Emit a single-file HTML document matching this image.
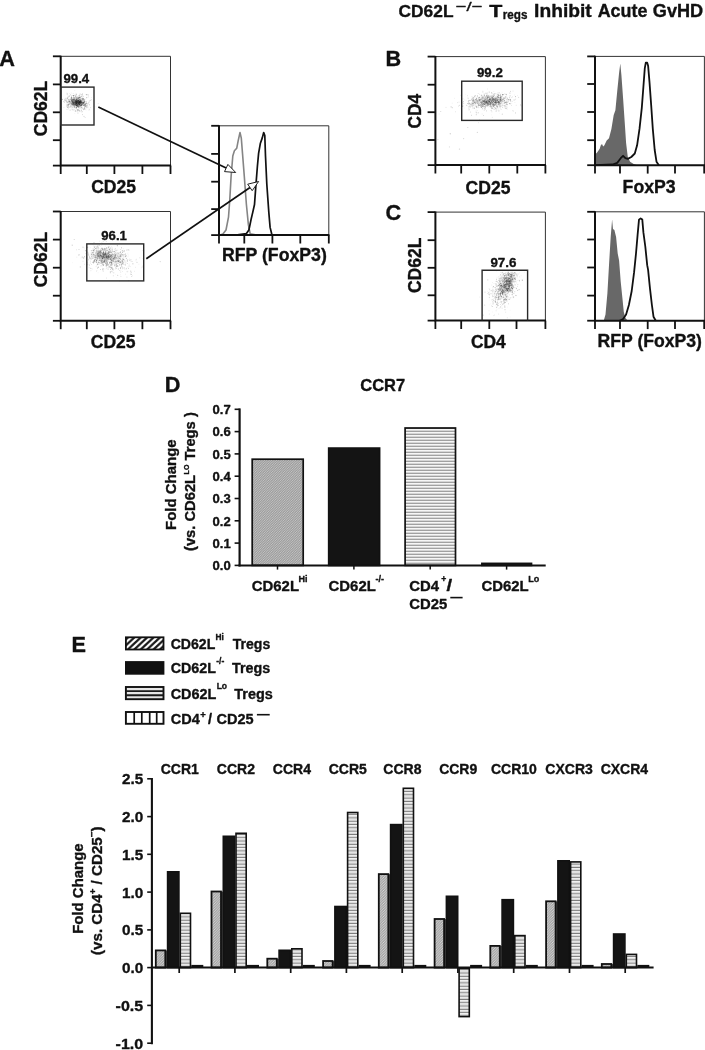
<!DOCTYPE html>
<html lang="en"><head><meta charset="utf-8"><title>CD62L-/- Tregs Inhibit Acute GvHD</title>
<style>html,body{margin:0;padding:0;background:#fff}svg{display:block}text{font-family:"Liberation Sans", Arial, Helvetica, sans-serif;font-weight:700;fill:#111;stroke:#111;stroke-width:.35px;stroke-linejoin:round}</style></head><body>
<svg width="705" height="1050" viewBox="0 0 705 1050">
<defs>
<pattern id="hd" width="2.4" height="2.4" patternUnits="userSpaceOnUse"><rect width="2.4" height="2.4" fill="#9c9c9c"/><path d="M-0.6 3L3 -0.6M-0.6 0.6L0.6 -0.6M1.8 3L3 1.8" stroke="#cdcdcd" stroke-width="0.8"/></pattern>
<pattern id="hd2" width="2.6" height="2.6" patternUnits="userSpaceOnUse"><rect width="2.6" height="2.6" fill="#a6a6a6"/><path d="M-0.65 3.25L3.25 -0.65M-0.65 0.65L0.65 -0.65M1.95 3.25L3.25 1.95" stroke="#dadada" stroke-width="0.8"/></pattern>
<pattern id="hh" width="4" height="3" patternUnits="userSpaceOnUse"><rect width="4" height="3" fill="#fafafa"/><rect y="0.9" width="4" height="2.1" fill="#d6d6d6"/><rect y="2.3" width="4" height="0.7" fill="#8a8a8a"/></pattern>
<pattern id="he" width="4" height="3.3" patternUnits="userSpaceOnUse"><rect width="4" height="3.3" fill="#f4f4f4"/><rect y="1.2" width="4" height="2.1" fill="#d2d2d2"/><rect y="2.5" width="4" height="0.8" fill="#777"/></pattern>
<pattern id="ld" width="6.4" height="6" patternUnits="userSpaceOnUse" patternTransform="translate(1.5 0)"><rect width="6.4" height="6" fill="#fff"/><path d="M-3.2 9L9.6 -3M-9.6 9L3.2 -3M3.2 9L16 -3" stroke="#1a1a1a" stroke-width="2.3"/></pattern>
</defs>
<rect width="705" height="1050" fill="#fff"/>
<g id="title">
<text x="398.6" y="17.0" font-size="17.3" text-anchor="start" textLength="54.9" lengthAdjust="spacingAndGlyphs">CD62L</text>
<text x="455.8" y="11.0" font-size="13.5" text-anchor="start" textLength="26.8" lengthAdjust="spacingAndGlyphs" style="font-weight:400">&#8722;/&#8722;</text>
<text x="489.2" y="17.0" font-size="17.3" text-anchor="start" textLength="13.1" lengthAdjust="spacingAndGlyphs">T</text>
<text x="502.8" y="18.5" font-size="12.4" text-anchor="start" textLength="24.7" lengthAdjust="spacingAndGlyphs">regs</text>
<text x="534.1" y="17.0" font-size="17.6" text-anchor="start" textLength="57.6" lengthAdjust="spacingAndGlyphs">Inhibit</text>
<text x="597.7" y="17.0" font-size="17.6" text-anchor="start" textLength="49.7" lengthAdjust="spacingAndGlyphs">Acute</text>
<text x="652.8" y="17.0" font-size="17.6" text-anchor="start" textLength="50.3" lengthAdjust="spacingAndGlyphs">GvHD</text>
</g>
<text x="-0.7" y="66.0" font-size="21.7" text-anchor="start">A</text>
<text x="385.5" y="66.3" font-size="21.7" text-anchor="start">B</text>
<text x="385.5" y="220.3" font-size="21.7" text-anchor="start">C</text>
<text x="164.7" y="392.2" font-size="21.7" text-anchor="start">D</text>
<text x="71.6" y="651.8" font-size="21.7" text-anchor="start">E</text>
<g id="panelA">
<path d="M75.6 101.2h.01M78.9 103.2h.01M68.1 104.4h.01M79.4 104.3h.01M68.0 95.7h.01M79.5 100.5h.01M73.4 107.8h.01M72.6 102.8h.01M76.2 99.6h.01M77.4 98.1h.01M74.4 97.9h.01M83.5 96.2h.01M66.9 93.0h.01M71.0 105.1h.01M79.5 104.5h.01M66.5 99.3h.01M81.2 96.7h.01M79.7 102.2h.01M82.7 105.9h.01M78.6 103.1h.01M75.9 103.2h.01M87.3 104.5h.01M75.0 103.5h.01M71.0 102.6h.01M68.0 100.3h.01M84.4 102.5h.01M77.4 102.9h.01M67.0 97.8h.01M66.6 105.0h.01M79.6 106.0h.01M75.8 98.1h.01M68.7 99.5h.01M70.7 103.0h.01M80.3 103.8h.01M86.9 97.5h.01M81.4 103.2h.01M80.0 104.3h.01M66.7 104.9h.01M78.5 100.2h.01M70.6 97.3h.01M65.6 98.8h.01M76.2 102.9h.01M76.1 98.1h.01M72.0 104.4h.01M71.2 93.0h.01M71.4 107.2h.01M76.7 104.4h.01M81.9 102.9h.01M67.3 97.9h.01M70.4 101.7h.01M75.9 93.2h.01M71.7 102.0h.01M79.2 104.7h.01M76.6 99.5h.01M80.6 103.8h.01M71.0 101.4h.01M79.5 102.1h.01M82.8 103.1h.01M79.8 105.1h.01M72.8 107.9h.01M73.3 104.8h.01M69.0 96.2h.01M74.4 99.8h.01M79.8 109.7h.01M73.1 102.1h.01M91.3 97.5h.01M77.6 103.8h.01M76.8 98.9h.01M69.5 101.6h.01M81.5 97.0h.01M71.5 97.9h.01M84.0 101.9h.01M81.2 100.3h.01M76.4 103.0h.01M70.9 95.2h.01M77.0 103.3h.01M73.9 105.1h.01M73.3 102.0h.01M78.4 108.1h.01M73.5 102.1h.01M80.0 105.4h.01M77.9 103.4h.01M85.5 99.1h.01M74.8 90.6h.01M79.4 102.2h.01M70.8 106.7h.01M82.4 104.1h.01M78.5 105.6h.01M77.8 102.0h.01M80.3 101.5h.01M76.6 95.2h.01M85.5 103.4h.01M83.2 100.6h.01M73.8 103.8h.01M79.8 101.8h.01M79.6 97.5h.01M80.8 97.6h.01M73.2 100.2h.01M77.2 101.1h.01M83.2 103.9h.01M75.4 98.7h.01M76.7 95.9h.01M76.9 104.9h.01M83.0 108.7h.01M72.7 100.6h.01M63.9 107.5h.01M73.0 101.9h.01M79.5 98.1h.01M83.6 102.3h.01M79.0 104.4h.01M73.2 103.5h.01M74.2 106.2h.01M82.9 105.5h.01M77.7 104.1h.01M68.5 105.3h.01M83.3 104.1h.01M70.8 103.9h.01M83.9 103.8h.01M77.6 96.6h.01M79.5 102.1h.01M76.9 100.4h.01M65.1 101.1h.01M80.0 103.2h.01M81.3 108.0h.01M81.4 99.8h.01M67.4 98.1h.01M89.8 110.1h.01M78.5 100.2h.01M79.7 103.1h.01M81.7 102.9h.01M80.6 104.7h.01M77.9 106.9h.01M73.8 100.9h.01M82.9 105.7h.01M73.5 103.6h.01M84.3 103.5h.01M76.9 109.7h.01M75.2 104.9h.01M86.8 103.6h.01M76.6 98.6h.01M76.5 98.7h.01M72.4 106.8h.01M73.4 96.0h.01M78.3 98.6h.01M76.6 104.8h.01M69.5 93.6h.01M86.2 108.1h.01M74.2 97.7h.01M70.5 106.5h.01" stroke="#222" stroke-opacity="0.12" stroke-width="0.70" stroke-linecap="round" fill="none"/>
<path d="M72.0 101.2h.01M82.6 104.4h.01M82.2 103.8h.01M78.4 103.9h.01M79.7 106.7h.01M78.7 100.1h.01M78.1 104.0h.01M68.6 105.9h.01M77.4 106.3h.01M84.4 101.7h.01M76.0 101.3h.01M84.1 99.7h.01M72.7 104.1h.01M74.6 104.4h.01M75.6 102.1h.01M82.0 99.0h.01M81.3 107.8h.01M82.5 98.1h.01M76.0 103.0h.01M91.1 99.9h.01M81.6 102.0h.01M68.9 96.5h.01M80.0 99.5h.01M84.5 100.0h.01M76.8 98.6h.01M80.8 108.1h.01M66.5 106.1h.01M76.3 100.3h.01M84.6 99.7h.01M72.9 105.4h.01M84.2 102.2h.01M67.2 104.2h.01M78.4 100.5h.01M73.3 105.0h.01M75.8 102.2h.01M82.0 105.6h.01M81.6 101.0h.01M64.5 102.3h.01M65.2 98.3h.01M78.3 101.0h.01M80.9 105.3h.01M72.0 104.2h.01M79.7 105.7h.01M90.7 107.6h.01M69.5 99.4h.01M78.3 103.2h.01M74.7 98.9h.01M86.3 106.1h.01M75.1 104.9h.01M77.1 99.6h.01M85.4 106.5h.01M75.3 105.8h.01M83.2 102.3h.01M77.3 111.2h.01M75.0 105.2h.01M70.7 102.4h.01M80.9 102.9h.01M81.2 104.7h.01M74.5 95.4h.01M75.6 97.5h.01M66.9 101.3h.01M80.1 105.1h.01M76.5 99.8h.01M77.6 97.8h.01M76.0 102.1h.01M74.2 102.5h.01M79.5 101.3h.01M88.9 102.5h.01M72.9 102.8h.01M79.9 110.6h.01M80.8 106.0h.01M82.9 99.6h.01M75.6 102.4h.01M84.2 100.8h.01M80.3 101.1h.01M74.1 109.8h.01M73.4 101.9h.01M83.9 99.0h.01M82.9 101.5h.01M71.9 100.7h.01M67.0 98.5h.01M71.4 104.0h.01M80.7 103.8h.01M86.5 101.5h.01M74.1 99.9h.01M70.0 101.1h.01M75.0 105.8h.01M75.4 100.2h.01M78.4 100.4h.01M73.2 110.0h.01M70.4 94.7h.01M80.0 111.6h.01M81.6 110.1h.01M77.0 102.6h.01M83.8 101.9h.01M77.4 106.3h.01M89.2 101.4h.01M74.7 105.1h.01M79.6 108.0h.01M88.3 96.9h.01M81.8 105.1h.01M71.1 98.4h.01M81.0 103.5h.01M70.8 99.2h.01M77.8 105.7h.01M74.8 100.4h.01M73.4 104.8h.01M76.3 100.1h.01M73.8 102.6h.01M81.4 94.6h.01M75.1 102.4h.01M81.4 101.4h.01M71.7 101.5h.01M79.6 104.4h.01M71.5 99.4h.01M73.6 102.6h.01M75.4 101.2h.01M75.9 96.5h.01M75.1 102.1h.01M71.7 101.8h.01M87.6 94.7h.01M79.7 95.1h.01M81.2 104.1h.01M83.3 109.7h.01M73.2 99.6h.01M83.6 102.8h.01M70.2 99.2h.01M65.8 100.8h.01M79.3 104.4h.01M84.6 101.1h.01M73.6 103.5h.01M83.4 103.4h.01M79.0 107.0h.01M69.4 101.5h.01M78.0 100.6h.01M75.8 99.7h.01M76.1 107.1h.01M72.8 100.8h.01M86.9 106.9h.01M77.5 103.1h.01M78.3 102.7h.01M74.0 96.9h.01M83.2 104.8h.01M86.4 106.1h.01" stroke="#222" stroke-opacity="0.21" stroke-width="0.80" stroke-linecap="round" fill="none"/>
<path d="M72.2 100.4h.01M73.6 99.6h.01M75.0 101.9h.01M80.1 103.6h.01M74.1 106.2h.01M79.0 97.6h.01M77.1 106.8h.01M66.3 100.3h.01M79.4 102.4h.01M69.2 104.4h.01M84.3 104.4h.01M69.2 102.5h.01M82.5 103.5h.01M81.8 104.7h.01M75.8 105.7h.01M82.2 103.0h.01M72.2 105.1h.01M69.6 101.2h.01M79.8 102.7h.01M80.8 104.7h.01M78.9 103.4h.01M78.3 100.8h.01M89.4 104.8h.01M75.0 104.3h.01M82.5 93.9h.01M77.7 106.5h.01M82.3 101.9h.01M77.5 104.8h.01M71.5 96.9h.01M83.4 105.6h.01M72.2 107.2h.01M81.9 102.3h.01M78.9 104.0h.01M82.7 108.0h.01M76.8 105.2h.01M77.2 106.9h.01M84.6 108.6h.01M70.4 101.7h.01M76.8 105.1h.01M72.1 99.3h.01M81.5 107.3h.01M75.3 100.7h.01M72.1 101.6h.01M80.1 94.0h.01M83.7 109.2h.01M87.8 107.0h.01M76.5 104.1h.01M73.0 101.6h.01M76.8 103.0h.01M79.0 106.2h.01M79.1 102.0h.01M79.4 103.2h.01M84.5 105.5h.01M82.1 99.3h.01M77.9 102.7h.01M76.8 97.5h.01M79.7 102.5h.01M86.3 105.1h.01M75.8 96.2h.01M73.5 97.4h.01M77.0 103.3h.01M84.6 107.1h.01M70.0 100.0h.01M75.8 101.3h.01M80.4 103.9h.01M69.0 102.3h.01M75.5 101.2h.01M73.0 97.5h.01M74.9 99.7h.01M82.6 95.0h.01M79.4 99.0h.01M85.5 103.3h.01M76.5 101.3h.01M76.4 103.4h.01M72.1 102.5h.01M78.3 104.3h.01M74.1 102.7h.01M79.4 102.3h.01M79.2 100.9h.01M76.3 104.9h.01M77.6 102.0h.01M81.5 100.5h.01M67.6 106.3h.01M80.7 102.3h.01M79.1 103.9h.01M69.0 100.9h.01M70.5 102.9h.01M85.6 104.7h.01M78.1 110.0h.01M78.3 103.4h.01M74.0 103.7h.01M76.2 102.1h.01M73.3 103.3h.01M81.0 101.6h.01M76.8 101.5h.01M74.2 99.3h.01M73.5 104.2h.01M80.3 102.2h.01M70.1 110.1h.01M77.3 105.9h.01M75.4 100.8h.01M76.5 100.1h.01M67.3 102.5h.01M83.0 96.7h.01M81.3 101.5h.01M80.6 100.0h.01M76.6 106.9h.01M79.0 103.2h.01M71.6 104.5h.01M75.3 101.1h.01M80.9 107.2h.01M72.2 109.7h.01M88.3 95.0h.01M69.6 96.0h.01M72.6 104.9h.01M79.4 104.8h.01M65.1 100.2h.01M90.1 100.5h.01M82.8 100.3h.01M77.6 100.2h.01M75.1 95.1h.01M73.7 100.0h.01M73.0 102.2h.01M80.6 105.4h.01M81.5 104.8h.01M75.7 96.2h.01M81.9 111.8h.01M63.8 101.6h.01M78.0 100.8h.01M77.9 105.0h.01M72.1 95.5h.01M81.6 105.6h.01M73.6 99.7h.01M71.2 106.2h.01M73.8 102.8h.01M76.7 102.6h.01M72.7 99.6h.01M72.6 99.3h.01M72.3 100.8h.01M73.4 99.2h.01M79.5 102.0h.01M87.2 105.5h.01M78.5 97.4h.01M77.2 104.0h.01M71.5 100.7h.01M80.4 102.2h.01M76.7 99.4h.01M80.2 100.7h.01M77.6 109.8h.01M67.0 102.7h.01M81.4 96.4h.01" stroke="#222" stroke-opacity="0.29" stroke-width="0.90" stroke-linecap="round" fill="none"/>
<path d="M75.5 104.0h.01M78.4 102.4h.01M74.5 99.0h.01M80.3 105.9h.01M80.0 100.7h.01M71.8 100.1h.01M84.3 105.1h.01M85.1 105.3h.01M70.0 107.1h.01M78.5 104.8h.01M73.4 100.7h.01M83.4 98.8h.01M77.6 104.4h.01M74.6 100.9h.01M76.7 105.5h.01M86.4 94.7h.01M73.9 101.8h.01M62.6 99.4h.01M76.5 105.6h.01M80.4 97.7h.01M80.9 103.3h.01M76.3 107.5h.01M78.0 104.7h.01M64.9 99.9h.01M76.5 105.9h.01M73.7 102.9h.01M86.1 103.5h.01M73.9 105.7h.01M68.2 99.6h.01M77.7 98.5h.01M68.8 101.2h.01M73.5 95.5h.01M80.6 101.8h.01M83.7 105.3h.01M79.1 95.6h.01M79.2 110.8h.01M86.6 103.0h.01M78.3 105.3h.01M76.6 101.7h.01M71.5 100.7h.01M72.4 99.1h.01M85.6 104.7h.01M76.4 104.1h.01M85.7 106.6h.01M72.3 102.8h.01M79.2 103.9h.01M80.1 103.4h.01M73.5 102.1h.01M79.1 99.4h.01M66.9 101.6h.01M74.8 97.6h.01M72.8 103.8h.01M76.0 104.8h.01M79.9 105.8h.01M75.7 110.9h.01M78.7 106.4h.01M75.5 104.6h.01M71.3 99.7h.01M73.2 104.0h.01M82.5 100.0h.01M80.9 105.9h.01M80.1 96.8h.01M71.3 98.2h.01M76.4 102.4h.01M79.3 97.3h.01M76.3 100.1h.01M82.5 103.4h.01M78.5 106.9h.01M78.1 109.7h.01M72.6 102.9h.01M78.2 101.1h.01M73.2 104.5h.01M83.7 103.0h.01M76.5 103.4h.01M84.7 107.0h.01M76.8 105.0h.01M67.7 107.5h.01M76.2 98.7h.01M76.9 97.6h.01M79.2 101.9h.01M74.3 107.4h.01M80.8 102.4h.01M75.6 103.5h.01M77.1 105.0h.01M73.4 104.2h.01M72.2 104.1h.01M84.8 104.2h.01M76.7 102.4h.01M84.6 101.2h.01M71.5 97.3h.01M79.5 104.5h.01M77.2 105.0h.01M84.7 101.9h.01M69.0 101.7h.01M79.3 97.4h.01M81.2 102.3h.01M77.7 105.9h.01M81.6 104.1h.01M75.9 105.4h.01M79.2 99.4h.01M68.7 107.0h.01M68.7 104.9h.01M77.0 101.5h.01M78.6 102.8h.01M74.6 104.5h.01M76.2 107.7h.01M75.1 104.7h.01M77.9 102.2h.01M71.3 103.5h.01M76.8 103.6h.01M76.6 103.8h.01M79.1 100.3h.01M72.2 100.6h.01M79.2 102.5h.01M79.3 104.1h.01M76.2 108.2h.01M79.1 102.1h.01M81.4 103.1h.01M75.4 100.3h.01M75.5 104.4h.01M78.6 98.5h.01M74.5 103.9h.01M88.0 103.8h.01M68.2 104.4h.01M67.8 105.4h.01M83.4 103.4h.01M81.5 105.3h.01M78.2 100.8h.01M78.4 100.7h.01M77.8 105.8h.01M76.9 101.5h.01M78.2 101.1h.01M70.0 103.9h.01M71.5 103.1h.01M74.4 102.4h.01M75.3 102.2h.01M79.5 101.6h.01M80.1 101.1h.01M72.2 101.8h.01M78.0 100.0h.01M76.7 101.3h.01M67.2 94.0h.01M76.2 101.8h.01M84.9 109.1h.01M76.9 104.3h.01M83.1 98.8h.01M83.0 104.1h.01M85.2 105.3h.01M77.0 103.4h.01M77.5 102.1h.01M76.3 94.3h.01M71.4 98.1h.01M73.5 95.8h.01M69.1 103.7h.01M78.5 107.1h.01M75.2 103.8h.01" stroke="#222" stroke-opacity="0.38" stroke-width="1.00" stroke-linecap="round" fill="none"/>
<path d="M80.4 101.7h.01M76.5 102.4h.01M76.2 102.7h.01M78.1 103.3h.01M80.8 104.9h.01M80.2 101.5h.01M72.7 100.2h.01M77.7 102.8h.01M79.4 103.0h.01M71.4 100.5h.01M77.8 100.6h.01M77.5 104.0h.01M73.9 100.4h.01M76.5 100.3h.01M81.9 102.3h.01M79.3 102.1h.01M70.3 105.8h.01M75.2 100.2h.01M80.1 102.1h.01M84.6 103.7h.01M81.2 103.2h.01M78.5 103.8h.01M80.4 101.5h.01M77.0 103.3h.01M78.6 102.1h.01M74.4 101.2h.01M72.7 101.6h.01M75.1 104.4h.01M79.2 102.9h.01M75.3 100.1h.01M77.3 104.5h.01M77.8 96.6h.01M74.6 106.3h.01M75.8 100.7h.01M75.5 102.9h.01M81.9 101.5h.01M78.2 102.0h.01M80.4 101.1h.01M82.1 99.2h.01M76.4 101.9h.01M84.0 104.0h.01M75.5 99.8h.01M78.1 101.5h.01M79.9 102.4h.01M78.3 103.0h.01M75.2 102.5h.01M76.1 99.6h.01" stroke="#222" stroke-opacity="0.12" stroke-width="0.70" stroke-linecap="round" fill="none"/>
<path d="M77.9 102.9h.01M79.9 103.8h.01M78.2 97.2h.01M76.1 100.5h.01M74.7 101.9h.01M73.4 103.1h.01M77.5 102.4h.01M80.3 105.1h.01M80.8 98.7h.01M77.4 99.0h.01M78.9 103.4h.01M80.9 100.9h.01M80.4 103.0h.01M78.1 101.0h.01M70.5 100.0h.01M79.1 101.9h.01M81.0 98.5h.01M79.0 98.4h.01M81.3 103.3h.01M80.1 99.8h.01M76.0 102.3h.01M79.5 102.6h.01M78.3 103.3h.01M76.7 99.7h.01M78.9 101.9h.01M77.3 102.9h.01M80.8 100.1h.01M85.5 101.4h.01M78.3 101.5h.01M77.0 102.9h.01M80.7 101.2h.01M81.2 100.8h.01M77.9 100.5h.01M79.9 101.0h.01M72.9 102.5h.01M75.6 104.2h.01M75.1 98.2h.01M81.9 98.8h.01M82.2 104.3h.01M76.4 103.3h.01M77.8 101.8h.01M73.1 101.3h.01M75.5 102.7h.01M78.6 105.3h.01M76.4 101.2h.01M83.4 99.2h.01M80.1 99.4h.01M82.1 102.7h.01M77.6 102.1h.01M74.2 98.7h.01M79.0 103.0h.01M74.3 100.6h.01M80.2 102.7h.01M79.8 104.3h.01M77.3 103.6h.01M79.6 105.7h.01M77.2 102.3h.01M77.3 99.3h.01M78.4 99.7h.01M77.3 102.0h.01M76.6 101.5h.01M78.5 103.8h.01M79.5 102.6h.01" stroke="#222" stroke-opacity="0.20" stroke-width="0.80" stroke-linecap="round" fill="none"/>
<path d="M79.2 97.5h.01M79.1 102.1h.01M78.1 102.9h.01M77.8 100.9h.01M76.5 105.1h.01M81.2 101.0h.01M78.7 101.2h.01M75.8 103.2h.01M79.5 101.9h.01M76.1 102.8h.01M78.7 102.9h.01M76.1 99.8h.01M76.7 103.2h.01M82.2 102.6h.01M74.0 105.3h.01M77.6 100.1h.01M79.2 103.4h.01M75.6 102.6h.01M79.1 102.6h.01M80.6 100.5h.01M72.6 104.6h.01M77.4 101.7h.01M80.3 99.6h.01M80.0 100.1h.01M76.9 100.5h.01M78.9 103.5h.01M79.3 104.6h.01M73.5 99.2h.01M79.2 102.5h.01M79.3 102.2h.01M77.3 104.9h.01M75.4 101.5h.01M79.3 104.1h.01M79.5 101.5h.01M79.4 101.1h.01M69.6 101.3h.01M74.4 103.3h.01M80.2 102.0h.01M77.2 100.2h.01M71.0 105.4h.01M76.3 103.0h.01M74.4 106.2h.01M80.1 102.2h.01M79.9 101.1h.01M75.2 102.9h.01M78.0 101.2h.01M76.3 103.3h.01M81.1 101.2h.01M77.1 99.8h.01M78.4 102.2h.01M79.2 104.3h.01M80.1 103.7h.01M74.9 102.1h.01M78.2 103.4h.01M79.7 102.5h.01M77.6 101.7h.01M77.9 105.8h.01M79.0 101.9h.01M77.7 102.2h.01" stroke="#222" stroke-opacity="0.27" stroke-width="0.90" stroke-linecap="round" fill="none"/>
<path d="M80.5 101.2h.01M76.3 103.2h.01M72.4 103.1h.01M81.6 102.4h.01M74.9 102.6h.01M74.6 99.7h.01M76.0 102.6h.01M76.0 101.8h.01M79.7 104.2h.01M82.3 102.2h.01M72.7 101.6h.01M73.7 98.7h.01M76.9 100.8h.01M73.1 100.4h.01M76.7 103.1h.01M83.0 102.5h.01M84.3 102.5h.01M76.1 103.4h.01M80.5 101.9h.01M75.1 103.4h.01M78.4 103.9h.01M77.2 102.2h.01M83.4 102.9h.01M83.3 100.2h.01M72.2 101.7h.01M73.9 102.8h.01M80.5 102.3h.01M80.8 101.7h.01M76.3 101.1h.01M78.7 101.3h.01M80.3 103.1h.01M76.7 101.7h.01M81.2 104.8h.01M77.2 100.6h.01M74.3 101.6h.01M75.6 101.6h.01M79.8 102.5h.01M75.2 103.1h.01M78.7 98.2h.01M72.9 101.5h.01M76.8 101.7h.01M74.4 100.9h.01M79.7 102.2h.01M73.4 103.4h.01M81.9 102.5h.01M82.3 98.6h.01M76.5 101.4h.01M83.6 102.1h.01M75.5 101.1h.01M74.4 103.7h.01M83.6 102.5h.01" stroke="#222" stroke-opacity="0.35" stroke-width="1.00" stroke-linecap="round" fill="none"/>
<path d="M95.9 106.7h.01M88.7 102.5h.01M80.3 94.7h.01M76.5 109.7h.01M74.7 111.2h.01M88.0 108.0h.01M86.8 103.6h.01M74.8 113.5h.01M88.7 110.4h.01M82.7 115.0h.01M72.2 108.2h.01M71.6 108.6h.01M75.0 109.2h.01M91.5 99.5h.01M66.5 107.0h.01M79.4 105.1h.01M73.9 101.1h.01M70.7 103.0h.01M86.1 110.1h.01M72.6 104.6h.01M74.5 104.7h.01" stroke="#222" stroke-opacity="0.08" stroke-width="0.70" stroke-linecap="round" fill="none"/>
<path d="M79.2 107.1h.01M81.3 95.0h.01M77.7 100.7h.01M70.7 104.2h.01M73.2 93.5h.01M82.5 111.6h.01M93.3 106.2h.01M72.9 99.9h.01M86.0 94.5h.01M98.2 103.5h.01M67.9 104.6h.01M74.3 105.1h.01" stroke="#222" stroke-opacity="0.12" stroke-width="0.87" stroke-linecap="round" fill="none"/>
<path d="M80.9 102.1h.01M73.3 106.0h.01M86.3 107.6h.01M67.0 109.3h.01M81.4 110.3h.01M68.4 108.7h.01M84.1 108.7h.01M67.3 98.5h.01M89.2 109.3h.01M75.8 111.2h.01M82.5 114.4h.01M74.8 106.8h.01M74.9 107.8h.01M85.1 117.4h.01" stroke="#222" stroke-opacity="0.16" stroke-width="1.03" stroke-linecap="round" fill="none"/>
<path d="M71.1 99.4h.01M77.9 110.5h.01M68.0 97.2h.01M82.4 104.4h.01M84.0 116.3h.01M67.7 98.0h.01M81.4 105.5h.01M86.6 97.7h.01M72.8 102.8h.01M82.0 102.5h.01M77.9 113.0h.01" stroke="#222" stroke-opacity="0.20" stroke-width="1.20" stroke-linecap="round" fill="none"/>
<path d="M60.7 56.3H170.5V165.6" fill="none" stroke="#333" stroke-width="1.0"/>
<path d="M60.7 55.7V165.6H171.1" fill="none" stroke="#111" stroke-width="2.0"/>
<line x1="60.7" y1="165.6" x2="60.7" y2="174.0" stroke="#111" stroke-width="1.8" stroke-linecap="butt"/>
<line x1="86.8" y1="165.6" x2="86.8" y2="174.0" stroke="#111" stroke-width="1.8" stroke-linecap="butt"/>
<line x1="114.4" y1="165.6" x2="114.4" y2="174.0" stroke="#111" stroke-width="1.8" stroke-linecap="butt"/>
<line x1="142.4" y1="165.6" x2="142.4" y2="174.0" stroke="#111" stroke-width="1.8" stroke-linecap="butt"/>
<line x1="170.5" y1="165.6" x2="170.5" y2="174.0" stroke="#111" stroke-width="1.8" stroke-linecap="butt"/>
<line x1="52.9" y1="56.3" x2="60.7" y2="56.3" stroke="#111" stroke-width="1.8" stroke-linecap="butt"/>
<line x1="52.9" y1="84.4" x2="60.7" y2="84.4" stroke="#111" stroke-width="1.8" stroke-linecap="butt"/>
<line x1="52.9" y1="112.3" x2="60.7" y2="112.3" stroke="#111" stroke-width="1.8" stroke-linecap="butt"/>
<line x1="52.9" y1="140.2" x2="60.7" y2="140.2" stroke="#111" stroke-width="1.8" stroke-linecap="butt"/>
<line x1="52.9" y1="165.6" x2="60.7" y2="165.6" stroke="#111" stroke-width="1.8" stroke-linecap="butt"/>
<rect x="60.7" y="87.1" width="33.3" height="37.9" fill="none" stroke="#2a2a2a" stroke-width="1.4"/>
<text x="63.4" y="82.8" font-size="13.4" text-anchor="start" textLength="25.8" lengthAdjust="spacingAndGlyphs">99.4</text>
<text transform="translate(47.0,136.3) rotate(-90)" font-size="17.6" text-anchor="start" textLength="55.6" lengthAdjust="spacingAndGlyphs">CD62L</text>
<text x="91.2" y="192.7" font-size="17.6" text-anchor="start" textLength="44.8" lengthAdjust="spacingAndGlyphs">CD25</text>
<path d="M138.9 264.2h.01M98.7 251.3h.01M103.2 252.1h.01M98.5 256.2h.01M96.0 252.0h.01M104.3 259.0h.01M95.1 253.5h.01M95.3 259.9h.01M102.2 252.6h.01M92.9 244.7h.01M81.0 258.0h.01M102.4 257.5h.01M106.0 259.0h.01M108.2 255.9h.01M113.8 259.2h.01M88.2 254.0h.01M98.6 263.8h.01M110.8 256.1h.01M108.7 265.6h.01M99.1 262.2h.01M117.0 245.3h.01M105.3 246.2h.01M125.0 260.9h.01M119.8 255.2h.01M108.6 257.1h.01M105.7 260.1h.01M94.7 260.6h.01M101.9 252.8h.01M115.9 264.4h.01M110.9 257.9h.01M114.9 259.3h.01M97.5 255.6h.01M120.3 252.9h.01M107.8 264.4h.01M113.7 251.7h.01M118.9 263.2h.01M122.5 261.5h.01M102.7 252.2h.01M97.0 254.0h.01M114.8 258.2h.01M96.9 248.4h.01M123.1 264.0h.01M95.4 246.2h.01M107.8 253.9h.01M102.6 260.3h.01M93.8 261.0h.01M100.3 260.9h.01M102.4 258.4h.01M96.3 250.3h.01M112.5 264.4h.01M113.7 256.7h.01M111.4 246.6h.01M117.4 258.1h.01M108.4 268.6h.01M116.5 264.5h.01M120.2 256.4h.01M113.2 258.6h.01M114.3 259.0h.01M118.7 259.9h.01M111.0 255.4h.01M109.8 262.9h.01M107.1 263.3h.01M98.7 249.6h.01M124.8 256.9h.01M100.8 258.7h.01M111.6 252.7h.01M109.9 266.8h.01M95.9 256.2h.01M108.3 260.4h.01M113.8 259.9h.01M111.0 260.8h.01M104.7 254.4h.01M110.8 261.2h.01M116.0 260.2h.01M117.4 261.9h.01M124.0 252.2h.01M102.7 264.3h.01M90.2 257.9h.01M103.0 256.4h.01M111.4 262.9h.01M98.1 257.6h.01M103.8 259.6h.01M106.9 255.4h.01M112.3 263.2h.01M111.5 262.0h.01M114.4 259.9h.01M114.8 257.5h.01M107.7 267.4h.01M104.6 259.8h.01M113.5 270.5h.01M100.9 249.5h.01M98.2 256.3h.01M125.5 264.2h.01M116.1 260.6h.01M99.1 250.8h.01M112.4 250.1h.01M116.4 254.1h.01M99.9 259.6h.01M115.1 269.3h.01M98.5 267.1h.01M110.5 251.3h.01M123.3 248.7h.01M109.8 256.3h.01M107.3 265.0h.01M105.4 248.9h.01M104.3 255.2h.01M96.6 260.1h.01M130.5 261.1h.01M106.1 261.3h.01M101.8 254.6h.01M114.3 256.1h.01M112.9 253.2h.01M108.3 256.3h.01M84.2 248.0h.01M90.3 247.7h.01M101.3 261.0h.01M104.8 264.3h.01M102.4 264.4h.01M101.5 245.3h.01M110.1 261.2h.01M114.5 262.5h.01M116.6 251.1h.01M97.9 257.0h.01M100.7 258.8h.01M114.0 255.0h.01M119.5 254.2h.01M108.8 250.9h.01M95.6 252.9h.01M108.6 265.0h.01M120.0 258.3h.01M115.5 267.6h.01M105.9 263.1h.01M116.3 259.5h.01M98.0 252.0h.01M111.8 252.5h.01M102.0 258.6h.01M104.7 257.5h.01M109.6 263.1h.01M110.3 256.7h.01M95.5 248.0h.01M118.2 259.3h.01M123.7 257.5h.01M93.4 255.1h.01M121.2 261.0h.01M92.6 258.6h.01M110.6 255.2h.01M93.5 242.9h.01M93.9 256.8h.01M103.7 260.7h.01M109.2 263.4h.01M104.4 255.2h.01M104.9 261.8h.01M118.7 266.4h.01M102.6 259.7h.01M107.0 253.2h.01M107.2 257.7h.01M113.3 254.1h.01M105.1 259.5h.01M115.0 263.0h.01M103.1 254.1h.01M127.1 254.0h.01M89.8 255.0h.01M118.9 253.7h.01M102.5 255.4h.01M106.7 255.0h.01M106.7 263.4h.01M112.4 260.9h.01M93.3 249.1h.01M110.0 250.6h.01M108.8 256.6h.01M128.3 255.0h.01M115.5 266.8h.01M109.3 257.7h.01M107.6 263.0h.01M116.2 262.7h.01M108.2 255.3h.01M107.9 256.1h.01M118.8 254.8h.01M106.0 256.6h.01" stroke="#222" stroke-opacity="0.10" stroke-width="0.70" stroke-linecap="round" fill="none"/>
<path d="M103.1 257.7h.01M125.5 255.4h.01M100.5 255.1h.01M125.7 262.1h.01M119.4 262.8h.01M97.6 256.4h.01M105.7 253.1h.01M83.9 258.0h.01M107.2 269.0h.01M116.4 258.8h.01M112.5 260.6h.01M130.1 266.6h.01M101.8 261.7h.01M111.5 255.3h.01M99.1 264.4h.01M112.7 258.6h.01M119.0 256.2h.01M118.8 256.0h.01M103.9 262.4h.01M101.1 249.3h.01M107.2 259.1h.01M113.4 256.0h.01M123.5 264.2h.01M92.8 252.5h.01M114.9 259.0h.01M98.3 266.8h.01M118.4 260.3h.01M116.1 268.6h.01M115.6 259.7h.01M102.1 253.6h.01M121.2 261.1h.01M99.7 251.6h.01M84.4 264.3h.01M111.8 267.5h.01M97.7 263.8h.01M112.1 270.1h.01M91.5 264.5h.01M103.3 268.5h.01M122.7 256.0h.01M127.3 260.5h.01M107.8 259.8h.01M110.9 248.1h.01M111.6 257.0h.01M103.2 263.6h.01M97.1 264.1h.01M96.1 266.6h.01M76.6 249.8h.01M126.3 258.2h.01M123.9 262.7h.01M114.5 257.6h.01M105.7 259.2h.01M105.8 263.5h.01M118.4 254.7h.01M96.4 260.7h.01M101.6 252.2h.01M100.2 252.4h.01M100.1 262.9h.01M93.4 263.4h.01M104.8 259.3h.01M117.7 250.2h.01M99.3 263.0h.01M102.2 265.0h.01M92.3 256.9h.01M106.2 265.1h.01M102.6 263.9h.01M106.0 263.6h.01M105.0 252.7h.01M126.3 258.7h.01M103.8 256.7h.01M98.9 260.6h.01M103.8 252.1h.01M116.2 261.2h.01M118.0 266.0h.01M114.5 256.8h.01M89.1 258.9h.01M115.2 253.7h.01M113.5 263.0h.01M104.2 260.9h.01M113.4 258.3h.01M95.2 255.1h.01M90.6 263.1h.01M103.4 253.4h.01M95.5 259.4h.01M99.2 253.6h.01M106.1 254.3h.01M108.8 261.5h.01M110.2 256.2h.01M122.9 260.5h.01M119.6 252.6h.01M100.2 251.8h.01M124.3 261.0h.01M113.6 258.8h.01M105.2 251.9h.01M97.9 254.3h.01M109.1 256.4h.01M104.7 249.1h.01M97.6 263.1h.01M98.4 255.8h.01M110.9 259.9h.01M123.7 263.0h.01M117.5 259.1h.01M103.6 255.8h.01M102.4 256.3h.01M108.7 256.3h.01M121.6 264.2h.01M107.6 256.7h.01M101.0 257.1h.01M107.7 258.2h.01M120.0 258.2h.01M122.9 263.7h.01M96.1 253.2h.01M126.2 255.5h.01M121.0 262.0h.01M104.1 262.0h.01M87.5 247.8h.01M115.7 261.6h.01M90.9 270.7h.01M104.2 260.4h.01M115.3 257.8h.01M98.0 249.7h.01M103.2 261.3h.01M107.3 256.8h.01M97.2 255.3h.01M128.1 267.0h.01M102.7 263.6h.01M108.6 253.2h.01M94.6 261.3h.01M110.0 252.5h.01M102.1 259.2h.01M103.6 258.8h.01M105.5 258.1h.01M89.1 267.7h.01M118.2 263.4h.01M116.0 250.0h.01M112.4 254.0h.01M117.4 252.8h.01M87.4 262.2h.01M105.3 261.4h.01M97.6 245.8h.01M107.7 258.3h.01M98.6 247.5h.01M112.8 261.7h.01M115.9 256.7h.01M114.1 256.1h.01M98.7 262.5h.01M118.9 260.3h.01M124.9 269.2h.01M109.2 264.1h.01M108.0 252.3h.01M79.5 254.7h.01M95.7 258.0h.01M111.1 259.9h.01M109.5 257.0h.01M98.5 261.9h.01M83.0 261.3h.01M117.1 254.0h.01M112.0 265.5h.01M111.6 260.6h.01M111.4 254.6h.01M107.5 256.9h.01M90.5 261.2h.01M96.6 249.9h.01M119.9 264.9h.01M126.3 258.6h.01M99.8 260.4h.01M93.9 246.0h.01M109.8 262.4h.01M90.4 258.4h.01M110.9 255.9h.01M122.9 259.2h.01M101.4 248.2h.01M91.9 252.7h.01M102.5 254.3h.01M87.6 263.3h.01M113.8 261.0h.01M109.6 259.1h.01M100.0 248.8h.01M129.6 259.2h.01M100.9 255.7h.01M108.8 258.7h.01M122.1 262.8h.01M108.4 257.1h.01M119.6 270.5h.01M95.0 250.4h.01M108.0 254.2h.01M104.8 259.6h.01M107.8 259.8h.01M110.3 267.2h.01M120.0 257.0h.01M114.7 257.4h.01M99.9 260.3h.01M116.6 253.3h.01M123.2 251.4h.01M105.0 254.6h.01M127.5 259.5h.01M114.2 254.2h.01M104.0 261.0h.01M104.8 261.8h.01M99.3 262.5h.01M106.2 252.7h.01M122.2 251.2h.01M108.2 269.5h.01M116.8 263.4h.01M115.9 255.9h.01M105.9 263.7h.01M116.9 261.2h.01M111.9 251.4h.01" stroke="#222" stroke-opacity="0.17" stroke-width="0.80" stroke-linecap="round" fill="none"/>
<path d="M97.8 248.0h.01M105.7 263.7h.01M95.5 257.2h.01M116.5 264.6h.01M103.4 262.1h.01M99.9 257.6h.01M116.9 265.5h.01M109.0 254.4h.01M97.2 247.1h.01M121.3 253.5h.01M112.8 269.5h.01M116.9 265.8h.01M112.8 260.2h.01M123.8 255.0h.01M117.4 260.9h.01M107.2 259.9h.01M105.9 257.1h.01M125.9 256.1h.01M93.4 260.8h.01M120.0 258.6h.01M111.4 252.8h.01M102.7 256.6h.01M116.0 263.7h.01M120.5 251.8h.01M88.5 259.8h.01M111.2 267.7h.01M121.5 260.9h.01M96.6 262.4h.01M102.2 262.5h.01M109.9 252.4h.01M106.7 256.3h.01M108.6 252.4h.01M108.9 255.3h.01M97.2 258.1h.01M109.9 257.1h.01M126.3 268.8h.01M119.0 258.1h.01M93.3 254.6h.01M121.0 263.2h.01M113.5 258.0h.01M99.2 258.4h.01M102.0 262.3h.01M123.5 259.4h.01M103.2 241.2h.01M112.2 248.1h.01M122.4 263.3h.01M111.6 263.0h.01M104.3 255.0h.01M103.7 254.8h.01M102.9 262.1h.01M113.9 254.5h.01M100.7 251.7h.01M105.7 262.3h.01M112.3 258.7h.01M98.3 252.5h.01M109.4 254.4h.01M115.0 257.7h.01M123.2 262.1h.01M102.2 262.1h.01M114.5 253.1h.01M106.7 247.6h.01M115.4 261.7h.01M102.7 253.6h.01M110.8 266.0h.01M120.3 256.2h.01M115.3 256.8h.01M91.9 258.6h.01M110.7 258.5h.01M113.9 259.6h.01M113.8 272.8h.01M106.5 254.7h.01M106.8 248.3h.01M109.7 249.9h.01M91.1 259.3h.01M104.2 261.6h.01M110.3 272.8h.01M103.3 265.2h.01M103.2 254.5h.01M107.3 254.4h.01M109.0 246.6h.01M116.0 250.5h.01M109.8 258.6h.01M104.4 261.7h.01M112.8 261.1h.01M79.0 249.5h.01M104.9 254.2h.01M88.6 255.2h.01M110.8 267.5h.01M101.7 255.5h.01M97.5 268.3h.01M108.4 255.2h.01M109.0 257.2h.01M119.3 262.4h.01M94.7 260.8h.01M110.8 252.5h.01M108.6 251.9h.01M106.1 266.2h.01M105.9 259.6h.01M89.8 258.1h.01M104.4 254.8h.01M106.8 250.8h.01M95.9 261.4h.01M108.4 253.3h.01M89.4 265.1h.01M115.7 255.7h.01M115.2 254.7h.01M114.6 264.2h.01M104.5 258.0h.01M107.4 261.8h.01M111.6 262.9h.01M115.3 248.7h.01M106.0 258.3h.01M94.1 242.7h.01M123.8 256.1h.01M127.3 261.5h.01M100.8 260.6h.01M101.3 257.1h.01M98.3 253.3h.01M117.9 257.2h.01M99.5 252.4h.01M116.3 258.2h.01M104.2 253.7h.01M115.8 255.1h.01M124.3 267.9h.01M94.6 262.0h.01M92.5 262.4h.01M110.0 256.1h.01M104.2 248.9h.01M111.8 261.3h.01M111.3 255.3h.01M93.3 256.1h.01M110.1 256.9h.01M100.6 269.5h.01M87.8 264.4h.01M102.8 254.1h.01M108.5 257.6h.01M106.2 248.6h.01M112.1 267.2h.01M94.6 255.0h.01M103.2 262.2h.01M114.9 261.3h.01M109.5 249.7h.01M117.4 245.8h.01M110.7 265.1h.01M124.0 254.4h.01M94.9 259.3h.01M92.6 252.7h.01M86.8 257.9h.01M97.2 257.0h.01M107.8 257.7h.01M112.6 256.6h.01M119.3 261.2h.01M108.2 247.0h.01M111.6 260.2h.01M101.7 263.2h.01M116.4 257.6h.01M118.0 262.8h.01M93.6 250.3h.01M99.7 250.9h.01M100.6 255.9h.01M102.8 249.0h.01M103.8 256.2h.01M92.1 255.4h.01M113.3 260.8h.01M107.9 249.1h.01M120.1 262.0h.01M108.4 259.4h.01M97.2 251.2h.01M111.3 257.9h.01M96.2 251.5h.01M103.9 259.0h.01M92.0 253.3h.01M93.6 262.6h.01M106.9 260.3h.01M94.6 247.6h.01M101.5 260.6h.01M96.8 257.2h.01M113.0 260.0h.01M118.2 261.5h.01M100.1 257.6h.01M74.2 239.5h.01M115.7 256.7h.01M98.3 256.7h.01M106.5 264.4h.01" stroke="#222" stroke-opacity="0.25" stroke-width="0.90" stroke-linecap="round" fill="none"/>
<path d="M106.7 261.0h.01M123.9 259.7h.01M121.4 247.8h.01M110.3 271.8h.01M111.4 268.2h.01M106.2 254.9h.01M125.6 254.1h.01M121.4 265.1h.01M108.6 255.3h.01M118.1 253.1h.01M109.4 252.0h.01M93.3 262.1h.01M106.8 265.0h.01M104.4 260.7h.01M117.1 255.0h.01M107.7 250.5h.01M109.2 259.5h.01M93.2 250.3h.01M93.9 250.5h.01M117.1 258.7h.01M110.0 255.6h.01M101.1 261.3h.01M103.5 251.0h.01M105.9 261.9h.01M115.2 265.1h.01M119.9 256.5h.01M106.2 265.3h.01M109.2 251.7h.01M115.1 255.8h.01M102.7 260.7h.01M122.6 260.8h.01M107.5 263.1h.01M78.8 255.0h.01M112.2 257.7h.01M107.0 262.7h.01M87.7 247.2h.01M102.0 258.6h.01M121.0 256.3h.01M101.2 255.5h.01M105.8 257.2h.01M93.2 252.7h.01M106.6 256.3h.01M114.1 258.8h.01M88.2 254.0h.01M114.0 258.1h.01M116.8 266.5h.01M122.3 259.1h.01M72.2 245.2h.01M125.6 256.6h.01M94.3 246.9h.01M106.6 257.9h.01M95.5 255.7h.01M111.4 260.0h.01M101.0 254.7h.01M112.8 268.9h.01M116.5 261.9h.01M108.2 255.6h.01M85.5 250.7h.01M110.8 264.8h.01M102.8 258.1h.01M120.3 261.8h.01M105.2 260.5h.01M105.6 255.0h.01M120.4 267.9h.01M101.3 256.7h.01M114.8 251.6h.01M97.2 258.9h.01M122.3 250.7h.01M102.7 249.3h.01M100.4 256.1h.01M120.9 256.9h.01M104.3 260.5h.01M101.9 262.2h.01M109.5 262.4h.01M99.6 255.0h.01M111.9 262.3h.01M103.6 252.4h.01M107.8 258.4h.01M95.3 248.6h.01M107.3 265.0h.01M120.5 254.8h.01M99.8 256.3h.01M106.8 255.7h.01M116.1 268.1h.01M103.4 254.4h.01M110.9 262.5h.01M112.1 249.7h.01M96.2 261.9h.01M118.1 256.8h.01M111.3 255.2h.01M109.0 266.2h.01M110.8 250.7h.01M96.6 260.5h.01M100.2 253.5h.01M114.9 255.6h.01M107.2 253.9h.01M104.6 262.1h.01M103.1 249.6h.01M120.6 262.4h.01M91.7 256.7h.01M110.8 256.7h.01M117.4 256.0h.01M113.2 258.6h.01M83.0 247.2h.01M118.8 261.3h.01M112.3 256.3h.01M97.9 246.3h.01M98.5 252.6h.01M109.3 257.2h.01M96.7 248.0h.01M91.8 254.7h.01M122.4 252.5h.01M117.1 266.0h.01M100.4 255.5h.01M104.7 248.4h.01M132.9 263.8h.01M103.6 265.2h.01M119.2 260.7h.01M119.0 257.9h.01M110.5 254.4h.01M105.4 254.1h.01M114.7 257.6h.01M94.5 261.0h.01M98.8 251.6h.01M107.2 255.9h.01M110.0 249.0h.01M106.1 250.5h.01M103.2 252.3h.01M122.5 261.3h.01M108.3 253.3h.01M113.0 254.7h.01M115.6 254.8h.01M98.1 267.5h.01M99.5 256.5h.01M118.3 269.0h.01M119.4 264.9h.01M121.9 264.5h.01M100.2 263.1h.01M108.0 257.7h.01M124.3 250.9h.01M120.3 255.5h.01M121.5 254.9h.01M103.1 255.9h.01M109.6 267.0h.01M97.9 254.4h.01M117.9 260.7h.01M82.2 257.1h.01M109.8 256.9h.01M91.8 254.4h.01M111.6 264.4h.01M128.1 249.8h.01M104.0 261.9h.01M122.2 254.5h.01M100.7 252.2h.01M107.5 257.2h.01M98.1 255.9h.01M98.0 255.6h.01M102.4 258.6h.01M110.4 259.2h.01M105.4 251.2h.01M110.5 259.3h.01M99.9 252.0h.01M86.6 259.3h.01M101.7 261.3h.01M110.9 259.5h.01M104.0 261.6h.01M118.0 261.0h.01M103.9 256.7h.01M111.3 263.1h.01M114.4 265.7h.01M108.6 247.6h.01M106.9 258.6h.01M114.9 261.9h.01M95.6 257.8h.01M84.5 256.7h.01M118.4 261.5h.01M83.3 258.0h.01M113.6 261.3h.01M103.7 251.8h.01M94.3 249.5h.01" stroke="#222" stroke-opacity="0.32" stroke-width="1.00" stroke-linecap="round" fill="none"/>
<path d="M99.6 259.6h.01M94.2 251.9h.01M104.6 259.5h.01M106.3 254.3h.01M92.8 250.0h.01M108.2 257.5h.01M89.7 257.4h.01M97.9 256.3h.01M106.3 254.6h.01M110.9 254.3h.01M106.5 257.1h.01M95.9 253.3h.01M101.3 251.9h.01M106.0 259.0h.01M114.9 255.0h.01M100.5 252.9h.01M93.8 258.1h.01M97.7 254.9h.01M100.7 254.9h.01M103.0 250.7h.01M103.3 257.1h.01M107.1 253.8h.01M101.4 255.6h.01M106.3 254.6h.01M90.4 254.9h.01M102.7 258.8h.01M98.6 254.9h.01M100.3 257.2h.01M104.2 254.6h.01M104.6 256.0h.01M103.5 254.4h.01M105.4 262.7h.01M99.3 256.4h.01M102.8 257.0h.01M103.9 254.3h.01M104.6 254.6h.01M90.2 258.2h.01M105.3 249.9h.01M98.4 255.0h.01M106.6 257.5h.01M107.4 256.2h.01M108.7 258.4h.01M102.8 258.1h.01M96.0 257.1h.01M111.5 251.6h.01M108.5 259.8h.01M100.3 255.4h.01M119.4 255.2h.01M108.5 255.3h.01M111.5 256.5h.01M104.9 259.3h.01M99.4 254.5h.01M93.7 256.4h.01M86.8 259.0h.01M103.8 255.2h.01M103.7 258.2h.01M103.5 259.7h.01M96.1 255.0h.01M101.6 252.2h.01M106.4 253.7h.01M108.8 252.2h.01M97.9 257.3h.01M107.4 254.2h.01M97.1 259.0h.01M106.4 257.1h.01M110.8 255.1h.01M97.9 254.9h.01M102.8 257.3h.01M101.7 256.0h.01M106.9 252.7h.01M99.9 254.9h.01M105.8 252.6h.01M99.9 259.4h.01M111.1 257.0h.01M105.4 255.9h.01M94.0 257.5h.01M95.3 255.9h.01" stroke="#222" stroke-opacity="0.10" stroke-width="0.70" stroke-linecap="round" fill="none"/>
<path d="M100.5 254.6h.01M108.2 257.1h.01M102.0 256.1h.01M106.9 256.4h.01M96.5 255.3h.01M93.7 254.6h.01M100.2 251.4h.01M97.0 255.4h.01M92.3 250.8h.01M97.3 251.5h.01M96.6 251.0h.01M108.0 256.6h.01M104.3 258.5h.01M108.0 256.6h.01M99.4 252.7h.01M102.6 259.1h.01M109.5 253.9h.01M107.8 255.1h.01M101.6 256.6h.01M101.0 256.5h.01M102.0 258.1h.01M105.3 248.5h.01M104.7 257.8h.01M98.1 253.9h.01M103.5 256.6h.01M101.4 263.6h.01M109.7 252.7h.01M103.6 257.5h.01M108.3 258.3h.01M102.1 248.0h.01M104.3 255.6h.01M98.3 258.2h.01M110.6 258.9h.01M96.9 255.6h.01M120.0 254.1h.01M118.6 258.2h.01M95.1 257.0h.01M104.7 255.7h.01M103.5 257.5h.01M103.4 258.9h.01M107.5 257.3h.01M101.2 253.4h.01M113.2 259.5h.01M109.8 257.1h.01M102.3 254.9h.01M109.3 263.5h.01M99.8 256.2h.01M109.7 253.1h.01M91.0 253.0h.01M97.1 252.5h.01M108.6 251.9h.01M97.9 258.9h.01M101.3 250.7h.01M104.0 256.8h.01M104.8 256.9h.01M97.5 251.8h.01M101.1 253.5h.01M108.4 256.5h.01M104.4 254.4h.01M96.5 258.1h.01M98.6 256.8h.01M100.9 258.7h.01M111.1 255.9h.01M112.2 254.8h.01M99.2 255.0h.01M96.6 252.3h.01M108.0 256.5h.01M100.2 250.6h.01M101.1 250.7h.01M112.7 253.4h.01M98.7 251.1h.01M101.8 256.9h.01M109.7 257.5h.01M103.7 254.4h.01M103.3 256.8h.01M100.7 254.5h.01M100.8 253.3h.01M102.5 255.4h.01M95.9 259.3h.01M103.8 257.8h.01M98.1 256.2h.01M104.0 250.2h.01" stroke="#222" stroke-opacity="0.17" stroke-width="0.80" stroke-linecap="round" fill="none"/>
<path d="M95.0 259.8h.01M101.6 259.7h.01M98.5 248.3h.01M113.0 257.1h.01M104.7 253.2h.01M96.6 260.2h.01M105.2 255.7h.01M104.6 254.6h.01M100.3 261.1h.01M102.8 257.3h.01M99.4 255.1h.01M108.0 253.5h.01M100.8 250.9h.01M94.9 255.1h.01M103.1 253.3h.01M106.8 256.8h.01M97.9 255.2h.01M104.3 255.5h.01M96.0 252.9h.01M108.2 253.2h.01M108.5 256.6h.01M99.4 257.6h.01M104.6 257.0h.01M103.5 255.4h.01M103.1 256.3h.01M102.4 260.7h.01M105.8 258.3h.01M104.1 253.1h.01M100.4 253.2h.01M104.5 257.7h.01M105.2 254.5h.01M104.3 253.4h.01M104.5 253.9h.01M107.7 258.3h.01M103.6 257.2h.01M100.5 259.3h.01M108.2 251.4h.01M105.5 260.1h.01M87.5 252.2h.01M94.5 256.2h.01M110.2 247.9h.01M99.9 258.1h.01M99.7 258.4h.01M100.0 258.2h.01M107.4 254.9h.01M106.3 255.9h.01M102.8 254.0h.01M105.4 253.7h.01M97.0 253.9h.01M95.8 256.5h.01M110.4 261.8h.01M102.8 248.4h.01M103.2 255.8h.01M94.9 259.3h.01M101.6 260.5h.01M108.3 258.9h.01M114.6 256.4h.01M103.1 255.8h.01M106.7 255.5h.01M111.8 252.7h.01M106.7 253.8h.01M93.5 254.0h.01M101.0 255.2h.01M104.6 257.2h.01M105.4 252.2h.01M101.3 259.1h.01M112.5 254.6h.01M115.0 258.1h.01M96.0 253.0h.01M99.9 255.4h.01M103.2 257.4h.01M107.2 256.4h.01M98.2 262.3h.01M109.3 254.5h.01M101.5 252.6h.01" stroke="#222" stroke-opacity="0.23" stroke-width="0.90" stroke-linecap="round" fill="none"/>
<path d="M98.4 253.5h.01M110.4 251.8h.01M105.3 253.3h.01M103.7 253.5h.01M101.9 248.5h.01M105.7 253.7h.01M105.9 249.5h.01M105.4 253.8h.01M102.9 256.6h.01M112.8 264.1h.01M97.4 264.5h.01M98.3 256.0h.01M106.5 257.3h.01M112.4 251.2h.01M109.3 254.8h.01M100.0 254.6h.01M103.6 252.9h.01M100.9 252.3h.01M104.6 257.2h.01M105.9 256.7h.01M93.0 258.2h.01M111.2 260.5h.01M106.4 257.3h.01M104.5 249.9h.01M98.1 253.8h.01M103.1 252.8h.01M111.1 257.9h.01M111.5 257.8h.01M105.4 254.9h.01M97.5 253.7h.01M111.9 255.2h.01M102.5 250.0h.01M93.9 254.8h.01M105.0 258.3h.01M100.6 251.3h.01M108.5 256.2h.01M99.3 253.4h.01M97.5 254.2h.01M108.4 256.8h.01M101.2 250.3h.01M102.6 257.3h.01M105.7 252.8h.01M103.8 256.0h.01M96.3 257.2h.01M98.0 256.5h.01M107.8 252.8h.01M98.6 254.8h.01M103.7 254.8h.01M99.3 251.1h.01M100.8 255.9h.01M94.8 257.5h.01M102.8 258.4h.01M109.9 255.9h.01M99.7 260.5h.01M106.8 261.5h.01M105.8 255.9h.01M101.8 256.3h.01M102.1 259.1h.01M106.8 260.3h.01M101.8 256.9h.01M110.0 258.2h.01M105.1 254.5h.01M99.1 256.0h.01M106.4 259.1h.01M89.5 256.9h.01M113.9 258.2h.01M108.4 257.7h.01M97.4 253.2h.01M105.9 253.1h.01M105.5 256.7h.01M102.1 253.8h.01M97.0 250.4h.01M106.4 257.0h.01M101.8 257.4h.01M114.2 251.4h.01M110.6 256.1h.01M94.6 260.2h.01M111.7 256.2h.01M102.8 254.2h.01M106.9 262.9h.01M91.3 250.7h.01M99.7 252.6h.01M93.8 251.8h.01M97.9 258.0h.01M109.2 249.3h.01M106.1 257.4h.01" stroke="#222" stroke-opacity="0.30" stroke-width="1.00" stroke-linecap="round" fill="none"/>
<path d="M124.5 254.6h.01M116.8 277.4h.01M98.1 272.8h.01M108.2 267.1h.01M141.7 268.0h.01M120.5 274.5h.01M122.8 267.8h.01M112.8 255.5h.01M128.1 271.3h.01M113.0 268.6h.01M97.0 260.0h.01M101.1 253.1h.01M109.9 261.1h.01M131.5 272.5h.01M128.6 259.6h.01M115.6 262.5h.01M112.9 260.3h.01M115.5 274.3h.01M123.8 264.6h.01M103.7 260.5h.01M116.0 257.5h.01M125.3 263.5h.01M100.3 246.5h.01M120.6 259.7h.01M114.3 253.9h.01M106.1 248.0h.01M111.3 256.6h.01M86.3 257.7h.01M110.0 244.4h.01M99.7 259.4h.01M96.1 262.3h.01M120.0 262.4h.01M128.0 253.0h.01M84.0 250.1h.01M102.7 266.9h.01M72.6 262.7h.01M97.2 270.6h.01M94.0 256.9h.01" stroke="#222" stroke-opacity="0.07" stroke-width="0.70" stroke-linecap="round" fill="none"/>
<path d="M116.0 254.2h.01M116.2 266.6h.01M125.4 274.2h.01M96.5 255.1h.01M126.2 262.9h.01M132.6 275.8h.01M135.4 267.3h.01M122.6 271.5h.01M88.6 252.4h.01M125.0 260.9h.01M136.0 260.8h.01M86.9 262.5h.01M105.7 257.5h.01M126.6 268.2h.01M116.2 264.1h.01M99.4 241.2h.01M108.0 259.4h.01M142.4 250.6h.01M128.0 256.8h.01M112.3 272.1h.01M102.9 265.0h.01M99.8 254.0h.01M99.7 253.0h.01M101.8 242.6h.01M113.1 269.6h.01M76.8 257.2h.01M96.9 265.4h.01M107.8 265.2h.01M115.1 259.4h.01M114.7 249.4h.01M101.0 257.7h.01M134.5 271.3h.01M98.2 264.3h.01M125.4 265.5h.01M89.2 256.0h.01M122.3 269.0h.01M108.7 267.5h.01M106.4 266.6h.01M126.1 256.0h.01M97.4 260.6h.01M120.8 270.2h.01M129.2 264.2h.01M127.2 272.0h.01M122.8 258.1h.01M115.4 262.4h.01M92.2 269.0h.01M96.9 261.1h.01M111.2 258.6h.01M97.8 255.6h.01M101.8 263.0h.01M105.0 269.0h.01M120.3 264.8h.01M115.1 254.4h.01M117.4 263.6h.01" stroke="#222" stroke-opacity="0.11" stroke-width="0.87" stroke-linecap="round" fill="none"/>
<path d="M106.5 267.9h.01M120.7 249.4h.01M102.6 258.3h.01M98.5 262.8h.01M122.5 262.3h.01M111.9 263.7h.01M112.3 268.3h.01M85.9 253.5h.01M98.0 252.3h.01M136.2 259.3h.01M99.8 257.3h.01M102.6 243.5h.01M96.3 262.3h.01M117.6 265.9h.01M98.5 260.1h.01M121.1 262.6h.01M129.1 265.7h.01M87.0 265.7h.01M122.1 263.5h.01M98.0 257.8h.01M118.3 253.2h.01M127.1 271.3h.01M106.4 278.0h.01M113.5 251.7h.01M129.5 260.5h.01M93.6 261.5h.01M106.3 241.2h.01M115.8 260.7h.01M95.9 248.4h.01M91.9 256.9h.01M102.9 269.6h.01M122.8 262.0h.01M96.6 270.9h.01M120.7 272.1h.01M117.3 245.2h.01M126.9 276.9h.01M116.9 261.6h.01M106.0 251.5h.01M131.5 274.6h.01M123.9 251.1h.01M119.4 280.9h.01M142.1 266.9h.01M93.1 248.2h.01M129.0 249.9h.01M103.2 271.3h.01M131.6 276.5h.01M113.3 255.7h.01M122.0 267.2h.01M115.5 258.4h.01M118.5 259.9h.01M96.2 246.2h.01M113.3 275.7h.01M93.6 262.1h.01M111.6 265.5h.01M105.1 255.4h.01M139.8 257.7h.01M127.3 260.6h.01M120.9 276.3h.01M122.5 262.9h.01M107.3 264.0h.01M127.4 263.6h.01M120.5 259.8h.01M100.6 250.0h.01" stroke="#222" stroke-opacity="0.16" stroke-width="1.03" stroke-linecap="round" fill="none"/>
<path d="M120.6 259.2h.01M108.4 264.5h.01M110.2 262.4h.01M111.7 262.1h.01M131.1 272.1h.01M143.2 265.9h.01M120.5 252.4h.01M110.5 269.4h.01M98.5 250.9h.01M116.1 257.3h.01M99.2 245.2h.01M160.2 261.6h.01M80.3 266.9h.01M115.7 252.6h.01M102.9 269.9h.01M110.8 262.8h.01M86.7 264.7h.01M122.3 255.0h.01M103.3 264.6h.01M96.7 260.0h.01M112.2 259.7h.01M126.7 250.0h.01M102.8 268.8h.01M125.1 264.7h.01M137.0 262.3h.01M97.3 258.9h.01M120.5 268.2h.01M111.8 271.5h.01M104.7 250.0h.01M130.8 274.2h.01M122.9 268.1h.01M130.7 271.1h.01M121.8 266.4h.01M143.3 258.5h.01M119.5 258.7h.01M90.8 268.4h.01M123.3 259.2h.01M130.9 259.8h.01M117.7 275.3h.01M101.0 265.8h.01M132.0 261.5h.01M128.5 268.5h.01M128.8 280.6h.01M96.2 254.3h.01M102.6 258.5h.01" stroke="#222" stroke-opacity="0.20" stroke-width="1.20" stroke-linecap="round" fill="none"/>
<path d="M60.7 211.5H170.5V320.8" fill="none" stroke="#333" stroke-width="1.0"/>
<path d="M60.7 210.9V320.8H171.1" fill="none" stroke="#111" stroke-width="2.0"/>
<line x1="60.7" y1="320.8" x2="60.7" y2="329.2" stroke="#111" stroke-width="1.8" stroke-linecap="butt"/>
<line x1="86.8" y1="320.8" x2="86.8" y2="329.2" stroke="#111" stroke-width="1.8" stroke-linecap="butt"/>
<line x1="114.4" y1="320.8" x2="114.4" y2="329.2" stroke="#111" stroke-width="1.8" stroke-linecap="butt"/>
<line x1="142.4" y1="320.8" x2="142.4" y2="329.2" stroke="#111" stroke-width="1.8" stroke-linecap="butt"/>
<line x1="170.5" y1="320.8" x2="170.5" y2="329.2" stroke="#111" stroke-width="1.8" stroke-linecap="butt"/>
<line x1="52.9" y1="211.5" x2="60.7" y2="211.5" stroke="#111" stroke-width="1.8" stroke-linecap="butt"/>
<line x1="52.9" y1="239.6" x2="60.7" y2="239.6" stroke="#111" stroke-width="1.8" stroke-linecap="butt"/>
<line x1="52.9" y1="267.7" x2="60.7" y2="267.7" stroke="#111" stroke-width="1.8" stroke-linecap="butt"/>
<line x1="52.9" y1="295.7" x2="60.7" y2="295.7" stroke="#111" stroke-width="1.8" stroke-linecap="butt"/>
<line x1="52.9" y1="320.8" x2="60.7" y2="320.8" stroke="#111" stroke-width="1.8" stroke-linecap="butt"/>
<rect x="86.8" y="243.9" width="56.9" height="37.0" fill="none" stroke="#2a2a2a" stroke-width="1.4"/>
<text x="101.3" y="240.0" font-size="13.4" text-anchor="start" textLength="25.6" lengthAdjust="spacingAndGlyphs">96.1</text>
<text transform="translate(47.0,287.3) rotate(-90)" font-size="17.6" text-anchor="start" textLength="55.4" lengthAdjust="spacingAndGlyphs">CD62L</text>
<text x="90.8" y="347.7" font-size="17.6" text-anchor="start" textLength="44.8" lengthAdjust="spacingAndGlyphs">CD25</text>
<path d="M220.8 234.8L222.9 234.1L226.0 230.0L228.5 217.2L229.8 199.4L231.1 176.4L232.8 156.0L234.4 150.8L236.7 148.3L238.2 140.6L240.0 132.5L241.3 138.1L242.5 153.4L244.3 176.4L246.4 204.5L248.4 224.9L250.2 233.8L255.3 234.8" fill="none" stroke="#858585" stroke-width="1.6" stroke-linejoin="round"/>
<path d="M237.4 234.8L246.4 233.6L248.9 230.0L251.0 219.8L252.8 212.1L254.5 204.5L255.8 186.6L257.4 166.2L258.6 153.4L260.4 143.2L262.2 138.1L263.7 132.5L264.8 135.5L265.5 156.0L266.8 184.0L268.8 212.1L270.1 227.4L271.9 234.8" fill="none" stroke="#111" stroke-width="1.7" stroke-linejoin="round"/>
<path d="M219.0 125.8H328.8V235.1" fill="none" stroke="#333" stroke-width="1.0"/>
<path d="M219.0 125.2V235.1H329.4" fill="none" stroke="#111" stroke-width="2.0"/>
<line x1="219.0" y1="235.1" x2="219.0" y2="243.5" stroke="#111" stroke-width="1.8" stroke-linecap="butt"/>
<line x1="244.3" y1="235.1" x2="244.3" y2="243.5" stroke="#111" stroke-width="1.8" stroke-linecap="butt"/>
<line x1="272.4" y1="235.1" x2="272.4" y2="243.5" stroke="#111" stroke-width="1.8" stroke-linecap="butt"/>
<line x1="300.3" y1="235.1" x2="300.3" y2="243.5" stroke="#111" stroke-width="1.8" stroke-linecap="butt"/>
<line x1="328.8" y1="235.1" x2="328.8" y2="243.5" stroke="#111" stroke-width="1.8" stroke-linecap="butt"/>
<line x1="211.2" y1="125.8" x2="219.0" y2="125.8" stroke="#111" stroke-width="1.8" stroke-linecap="butt"/>
<line x1="211.2" y1="153.9" x2="219.0" y2="153.9" stroke="#111" stroke-width="1.8" stroke-linecap="butt"/>
<line x1="211.2" y1="181.7" x2="219.0" y2="181.7" stroke="#111" stroke-width="1.8" stroke-linecap="butt"/>
<line x1="211.2" y1="209.1" x2="219.0" y2="209.1" stroke="#111" stroke-width="1.8" stroke-linecap="butt"/>
<line x1="211.2" y1="235.1" x2="219.0" y2="235.1" stroke="#111" stroke-width="1.8" stroke-linecap="butt"/>
<text x="222.0" y="261.1" font-size="17.6" text-anchor="start" textLength="104.8" lengthAdjust="spacingAndGlyphs">RFP (FoxP3)</text>
<line x1="98.3" y1="106.9" x2="226.7" y2="168.2" stroke="#111" stroke-width="1.7" stroke-linecap="butt"/>
<path d="M235.7 172.5L224.5 171.6L227.9 164.4Z" fill="#fff" stroke="#222" stroke-width="1.0" stroke-linejoin="miter"/>
<line x1="146.3" y1="258.7" x2="250.4" y2="187.2" stroke="#111" stroke-width="1.7" stroke-linecap="butt"/>
<path d="M258.6 181.5L252.2 190.7L247.7 184.2Z" fill="#fff" stroke="#222" stroke-width="1.0" stroke-linejoin="miter"/>
</g>
<g id="panelB">
<path d="M486.9 102.6h.01M485.3 106.6h.01M483.6 100.4h.01M483.2 97.6h.01M485.3 99.1h.01M499.6 98.8h.01M494.5 102.0h.01M477.3 95.6h.01M504.5 97.1h.01M484.7 102.2h.01M488.4 100.3h.01M479.6 100.0h.01M483.0 101.7h.01M492.0 101.9h.01M484.0 100.7h.01M506.2 102.3h.01M497.6 107.2h.01M477.9 107.5h.01M514.7 95.0h.01M472.8 99.0h.01M501.4 104.9h.01M482.6 102.6h.01M510.3 103.3h.01M468.6 102.4h.01M483.7 101.1h.01M498.4 100.5h.01M504.0 97.6h.01M479.6 99.7h.01M502.4 96.4h.01M487.5 102.3h.01M506.6 106.4h.01M475.0 101.7h.01M488.2 107.0h.01M493.6 95.6h.01M503.9 101.3h.01M474.6 96.6h.01M469.3 104.4h.01M499.1 102.7h.01M474.3 96.8h.01M485.8 106.2h.01M483.9 101.4h.01M481.6 97.9h.01M493.8 104.0h.01M496.2 103.5h.01M489.9 96.5h.01M500.4 99.2h.01M507.0 102.5h.01M489.0 103.3h.01M487.9 100.5h.01M495.4 103.1h.01M475.4 103.9h.01M490.6 96.3h.01M509.4 98.9h.01M484.5 102.3h.01M502.4 101.4h.01M500.5 98.6h.01M499.2 102.8h.01M491.5 106.7h.01M503.0 98.6h.01M476.4 101.1h.01M472.5 101.8h.01M466.0 100.3h.01M486.0 99.3h.01M496.7 98.0h.01M487.2 101.4h.01M485.4 92.9h.01M495.2 99.0h.01M479.5 105.6h.01M490.4 100.5h.01M485.6 101.2h.01M487.1 100.3h.01M488.4 102.1h.01M489.2 102.0h.01M470.9 103.3h.01M489.7 106.5h.01M508.2 102.7h.01M484.3 101.0h.01M482.8 91.1h.01M499.3 103.3h.01M490.8 103.9h.01M498.7 103.5h.01M515.5 99.7h.01M493.3 97.0h.01M477.9 100.3h.01M495.9 93.9h.01M464.1 108.0h.01M485.5 102.9h.01M495.0 99.7h.01M479.5 105.5h.01M477.9 104.7h.01M489.0 94.1h.01M518.7 97.4h.01M505.3 101.0h.01M481.1 98.9h.01M484.3 100.4h.01M475.8 103.1h.01M496.6 104.9h.01M494.2 102.0h.01M477.5 100.8h.01M482.2 109.4h.01M479.2 96.9h.01M469.7 103.0h.01M481.3 94.9h.01M486.9 103.3h.01M480.4 101.7h.01M496.1 97.2h.01M474.0 101.1h.01M494.6 105.7h.01M495.0 98.4h.01M517.5 95.6h.01M488.5 103.8h.01M480.0 103.9h.01M486.6 99.7h.01M497.0 100.2h.01M494.2 104.5h.01M493.8 100.9h.01M491.7 100.9h.01M483.2 97.3h.01M454.5 98.3h.01M497.7 92.7h.01M478.6 103.7h.01M488.7 104.5h.01M502.2 101.8h.01M481.7 106.2h.01M496.3 99.5h.01M504.0 100.6h.01M478.8 104.1h.01M464.3 99.9h.01M502.8 100.4h.01M486.7 98.8h.01M491.2 104.1h.01M489.8 106.6h.01M471.6 96.7h.01M495.4 100.4h.01M492.1 97.8h.01M482.0 102.3h.01M489.6 103.5h.01M493.9 93.6h.01M482.7 106.6h.01M493.8 91.5h.01M483.2 95.1h.01M499.1 104.0h.01M471.8 103.3h.01M481.7 103.7h.01M475.9 97.2h.01M502.1 92.2h.01M491.7 95.5h.01M494.1 100.7h.01M498.1 102.8h.01M493.1 99.0h.01M493.7 104.8h.01M486.8 101.4h.01M507.0 102.3h.01M493.3 100.4h.01M496.1 101.1h.01M477.2 101.0h.01M491.6 101.9h.01M484.6 106.9h.01M476.7 99.3h.01M484.1 103.5h.01M477.2 102.3h.01M486.3 97.7h.01M500.0 101.2h.01M493.4 101.4h.01M477.6 110.5h.01M479.9 100.8h.01M489.8 103.5h.01M496.0 101.2h.01M480.5 106.5h.01M505.9 103.9h.01M510.0 96.1h.01M494.3 98.9h.01M492.3 105.9h.01M486.8 104.9h.01M484.9 98.3h.01M484.8 102.3h.01M507.1 109.5h.01M482.0 100.4h.01M492.0 101.5h.01M477.7 97.8h.01M498.6 103.8h.01M452.2 103.2h.01M476.6 101.6h.01M472.6 108.5h.01M493.3 96.5h.01M492.6 100.1h.01M486.3 101.2h.01M500.5 96.2h.01M497.7 97.4h.01M496.7 94.0h.01M496.2 99.8h.01M506.8 105.9h.01M481.7 103.2h.01M490.0 98.5h.01M496.0 97.4h.01M511.8 103.3h.01M492.1 101.1h.01M492.4 100.1h.01M469.4 109.3h.01M487.8 104.3h.01M487.5 103.3h.01M494.0 101.5h.01M504.1 107.8h.01M490.7 95.8h.01M491.0 102.4h.01M480.2 101.5h.01M484.1 94.2h.01M514.9 102.5h.01M492.1 95.7h.01M503.9 105.2h.01M478.8 100.0h.01M487.9 101.3h.01M491.7 92.7h.01" stroke="#222" stroke-opacity="0.10" stroke-width="0.70" stroke-linecap="round" fill="none"/>
<path d="M498.0 94.4h.01M492.7 104.5h.01M477.4 100.1h.01M489.9 102.2h.01M488.2 105.7h.01M474.2 104.4h.01M457.6 102.6h.01M502.7 94.4h.01M483.0 101.1h.01M492.5 104.9h.01M503.3 101.9h.01M492.3 104.4h.01M489.7 97.9h.01M484.3 100.6h.01M489.6 101.8h.01M490.6 105.8h.01M489.1 104.5h.01M487.4 103.1h.01M491.3 106.8h.01M470.3 104.5h.01M484.7 102.2h.01M492.4 97.7h.01M493.6 100.1h.01M473.6 97.4h.01M507.1 99.2h.01M480.6 102.8h.01M495.9 108.2h.01M473.1 104.2h.01M485.2 107.2h.01M499.2 107.0h.01M500.7 108.2h.01M500.1 104.9h.01M489.7 98.9h.01M494.5 100.7h.01M496.9 102.9h.01M474.9 102.1h.01M488.6 100.2h.01M489.4 96.5h.01M473.5 100.2h.01M487.4 98.2h.01M487.5 106.5h.01M475.5 99.6h.01M500.7 99.5h.01M493.6 101.3h.01M493.6 104.0h.01M499.2 94.0h.01M474.4 96.7h.01M495.5 103.7h.01M500.6 98.8h.01M484.0 107.2h.01M481.2 105.5h.01M500.3 96.9h.01M497.8 99.5h.01M478.2 93.5h.01M499.4 99.2h.01M492.4 100.7h.01M482.0 106.5h.01M468.5 103.0h.01M497.5 100.7h.01M490.4 104.0h.01M489.4 102.0h.01M468.3 106.5h.01M475.9 99.6h.01M495.6 104.6h.01M511.6 105.4h.01M468.5 98.3h.01M511.3 97.6h.01M473.2 101.0h.01M507.3 98.8h.01M478.9 107.7h.01M471.6 99.1h.01M516.2 105.3h.01M476.0 103.8h.01M482.3 96.3h.01M489.1 104.1h.01M501.7 103.6h.01M476.9 103.5h.01M498.0 99.6h.01M502.1 103.5h.01M470.7 104.6h.01M491.2 99.2h.01M494.9 102.6h.01M498.8 97.9h.01M515.7 99.1h.01M498.8 109.0h.01M496.9 108.7h.01M507.0 100.9h.01M492.1 100.9h.01M468.4 101.3h.01M472.5 107.1h.01M476.7 98.4h.01M496.6 101.1h.01M499.5 101.7h.01M499.7 99.3h.01M492.9 99.9h.01M500.0 97.7h.01M483.5 99.0h.01M463.1 105.7h.01M468.6 103.9h.01M472.6 100.6h.01M493.5 99.3h.01M476.3 107.2h.01M495.5 103.2h.01M474.0 103.1h.01M507.1 107.2h.01M458.4 106.2h.01M496.8 101.0h.01M482.9 101.0h.01M473.8 98.0h.01M493.9 99.9h.01M484.7 102.2h.01M463.0 98.8h.01M482.5 103.1h.01M483.4 101.2h.01M493.9 99.5h.01M507.6 98.8h.01M498.2 103.1h.01M488.1 96.6h.01M487.5 99.3h.01M479.7 94.3h.01M470.5 107.2h.01M489.4 99.9h.01M473.8 102.1h.01M486.0 105.7h.01M474.9 103.4h.01M484.9 105.0h.01M487.0 103.2h.01M486.6 101.3h.01M491.3 107.0h.01M488.7 99.3h.01M497.4 99.0h.01M491.2 105.5h.01M506.7 103.2h.01M497.3 98.4h.01M504.3 93.9h.01M504.3 105.6h.01M487.4 99.0h.01M474.9 102.2h.01M497.4 100.5h.01M494.4 99.4h.01M486.0 104.6h.01M484.8 103.2h.01M474.3 105.8h.01M521.1 105.8h.01M492.3 99.7h.01M487.6 102.8h.01M484.7 104.6h.01M490.3 105.6h.01M493.6 106.7h.01M491.9 111.8h.01M485.5 107.4h.01M494.3 102.1h.01M512.3 101.4h.01M485.1 106.5h.01M489.0 104.5h.01M500.1 103.0h.01M491.0 99.4h.01M481.5 104.0h.01M479.9 104.9h.01M518.7 97.4h.01M475.8 105.0h.01M486.3 102.9h.01M484.1 93.8h.01M493.1 96.3h.01M489.5 104.5h.01M483.5 101.1h.01M512.7 110.7h.01M492.2 98.7h.01M473.8 103.1h.01M489.3 105.8h.01M499.3 102.4h.01M484.6 99.0h.01M494.2 98.9h.01M486.4 101.9h.01M495.4 101.9h.01M505.0 102.6h.01M487.1 99.0h.01M476.6 106.8h.01M480.7 105.3h.01M492.3 104.3h.01M493.7 105.2h.01M483.8 100.5h.01M495.7 96.7h.01M480.2 97.1h.01M503.6 99.9h.01M502.0 102.4h.01M484.3 95.3h.01M512.6 96.9h.01M492.8 105.7h.01M486.0 103.8h.01M467.6 95.7h.01M472.4 97.1h.01M484.2 95.7h.01M501.3 102.6h.01M472.4 100.5h.01M499.7 102.5h.01M483.4 102.3h.01M470.0 105.3h.01M482.4 101.8h.01M480.4 104.9h.01M459.0 102.2h.01M479.8 100.9h.01M495.3 93.7h.01M480.1 104.5h.01M499.9 102.7h.01M500.0 101.8h.01M482.2 100.8h.01M467.8 98.1h.01M497.9 96.4h.01M504.1 101.7h.01" stroke="#222" stroke-opacity="0.17" stroke-width="0.80" stroke-linecap="round" fill="none"/>
<path d="M500.7 103.6h.01M499.2 104.1h.01M463.7 103.3h.01M488.2 105.5h.01M475.2 102.1h.01M491.7 97.4h.01M491.8 102.7h.01M489.9 96.0h.01M500.1 105.2h.01M477.7 102.9h.01M463.6 101.5h.01M499.1 101.9h.01M487.0 100.4h.01M483.6 101.4h.01M510.1 95.8h.01M483.0 102.8h.01M507.1 97.9h.01M472.3 102.1h.01M498.1 101.2h.01M496.1 100.1h.01M493.3 106.1h.01M482.5 108.6h.01M496.1 100.7h.01M486.0 103.7h.01M510.2 99.6h.01M482.0 97.6h.01M492.7 100.0h.01M494.3 105.1h.01M470.6 100.4h.01M478.3 112.8h.01M491.0 97.5h.01M493.4 94.7h.01M498.8 96.7h.01M491.7 107.7h.01M485.1 104.1h.01M502.7 99.5h.01M484.0 100.5h.01M486.6 102.6h.01M502.5 107.3h.01M487.9 103.6h.01M478.5 103.2h.01M480.2 99.2h.01M491.2 100.7h.01M495.5 102.4h.01M480.6 106.2h.01M473.4 101.1h.01M484.2 96.4h.01M495.8 99.8h.01M501.5 98.3h.01M490.4 103.9h.01M494.4 99.6h.01M510.7 100.4h.01M490.9 104.5h.01M485.7 100.1h.01M482.9 92.0h.01M488.4 101.2h.01M478.4 104.8h.01M482.6 98.4h.01M479.5 103.5h.01M483.8 104.8h.01M492.4 97.5h.01M475.9 106.1h.01M481.3 107.0h.01M492.3 99.3h.01M459.3 105.4h.01M486.8 103.9h.01M489.1 101.3h.01M489.3 104.7h.01M473.5 100.1h.01M479.1 105.2h.01M505.5 97.1h.01M477.0 100.5h.01M482.7 105.6h.01M482.1 102.6h.01M497.4 106.3h.01M499.1 92.6h.01M468.9 100.4h.01M494.5 98.0h.01M471.9 106.2h.01M487.8 103.8h.01M510.8 101.5h.01M504.1 98.3h.01M487.7 99.9h.01M498.3 97.6h.01M498.0 97.4h.01M482.8 101.3h.01M484.4 104.3h.01M493.8 106.4h.01M492.0 93.7h.01M491.4 100.8h.01M490.4 99.8h.01M471.8 104.6h.01M492.3 99.8h.01M474.6 101.1h.01M500.4 99.7h.01M492.8 106.8h.01M473.0 101.5h.01M479.4 97.9h.01M483.2 97.8h.01M493.1 98.9h.01M497.2 99.9h.01M483.7 103.4h.01M488.8 100.5h.01M495.3 101.5h.01M491.4 103.9h.01M482.4 97.4h.01M493.3 96.5h.01M520.6 104.9h.01M488.3 96.0h.01M476.4 98.9h.01M485.3 102.6h.01M502.6 100.4h.01M473.2 103.3h.01M483.0 106.7h.01M500.2 99.9h.01M491.7 103.4h.01M492.4 97.4h.01M488.5 95.5h.01M500.5 106.8h.01M473.7 97.9h.01M476.4 100.0h.01M468.2 103.9h.01M490.5 102.8h.01M500.9 100.9h.01M486.8 95.5h.01M488.7 103.1h.01M503.3 97.8h.01M497.3 101.1h.01M484.2 110.1h.01M496.1 102.8h.01M485.8 101.7h.01M491.2 106.3h.01M486.6 101.1h.01M496.0 109.1h.01M481.8 104.3h.01M487.0 101.6h.01M484.5 97.8h.01M486.6 102.0h.01M493.0 98.6h.01M468.2 101.7h.01M484.7 106.7h.01M500.2 99.5h.01M486.1 102.7h.01M487.4 100.7h.01M486.5 110.9h.01M495.8 105.5h.01M509.4 97.4h.01M493.0 102.5h.01M499.5 100.6h.01M498.0 99.3h.01M486.0 101.7h.01M500.9 96.9h.01M471.6 115.3h.01M486.1 100.8h.01M498.4 94.4h.01M505.0 98.7h.01M472.2 100.0h.01M477.7 103.7h.01M500.5 95.0h.01M486.3 106.0h.01M491.1 110.6h.01M490.3 107.0h.01M499.2 100.5h.01M494.5 107.5h.01M478.6 99.7h.01M471.8 103.0h.01M500.3 100.6h.01M500.3 97.7h.01M497.3 100.9h.01M485.2 101.2h.01M487.1 102.1h.01M469.8 106.8h.01M499.3 103.4h.01M487.5 98.2h.01M479.7 102.2h.01M502.3 95.9h.01M497.1 97.4h.01M476.8 112.9h.01M475.5 99.3h.01M473.5 99.0h.01M497.3 96.1h.01M493.0 99.2h.01M490.3 100.0h.01M491.0 103.2h.01M506.8 99.7h.01M491.7 92.6h.01M484.1 101.1h.01M510.4 91.4h.01M478.9 101.7h.01M495.1 100.6h.01M497.4 100.6h.01M494.1 100.6h.01M501.5 101.8h.01M475.2 102.0h.01M485.9 101.6h.01M474.5 102.6h.01M490.7 106.4h.01M498.7 102.8h.01" stroke="#222" stroke-opacity="0.25" stroke-width="0.90" stroke-linecap="round" fill="none"/>
<path d="M494.0 97.1h.01M488.5 104.8h.01M492.4 103.3h.01M489.2 100.0h.01M491.7 100.3h.01M495.6 108.2h.01M479.0 97.6h.01M474.6 108.2h.01M484.9 102.7h.01M490.7 98.9h.01M499.1 97.7h.01M497.9 99.6h.01M499.2 99.2h.01M507.3 104.6h.01M483.9 101.4h.01M496.5 102.4h.01M490.3 102.4h.01M467.8 103.5h.01M480.6 99.2h.01M501.1 96.6h.01M506.6 94.7h.01M484.5 95.2h.01M487.9 97.4h.01M501.1 100.9h.01M504.4 100.5h.01M488.0 96.9h.01M497.1 96.1h.01M510.2 99.4h.01M510.1 100.2h.01M508.6 99.7h.01M489.2 92.1h.01M500.9 97.8h.01M500.1 101.5h.01M477.5 96.1h.01M502.6 99.7h.01M490.5 104.9h.01M493.0 96.7h.01M489.7 99.6h.01M476.0 99.9h.01M497.9 99.9h.01M497.5 102.8h.01M506.1 102.5h.01M479.7 99.6h.01M492.5 102.3h.01M486.9 101.9h.01M490.1 101.1h.01M486.7 95.3h.01M502.8 94.7h.01M471.9 99.8h.01M476.7 98.7h.01M485.9 96.9h.01M469.4 103.3h.01M469.2 100.6h.01M487.2 95.1h.01M482.9 106.5h.01M481.9 99.7h.01M502.4 94.6h.01M492.2 104.9h.01M493.4 101.5h.01M475.5 103.3h.01M489.7 103.0h.01M494.3 93.9h.01M481.3 95.4h.01M488.1 102.6h.01M495.7 104.1h.01M497.1 102.2h.01M504.1 103.4h.01M493.0 98.6h.01M476.1 102.2h.01M492.7 108.2h.01M487.7 102.7h.01M461.8 105.1h.01M502.7 105.1h.01M515.4 96.6h.01M505.0 102.5h.01M499.1 95.5h.01M476.8 107.6h.01M498.5 95.7h.01M480.9 102.4h.01M492.8 97.0h.01M496.3 99.0h.01M503.7 99.6h.01M490.5 103.6h.01M500.8 100.7h.01M496.3 98.3h.01M489.4 101.7h.01M498.9 110.9h.01M493.1 105.1h.01M481.5 99.0h.01M490.5 104.7h.01M451.1 106.9h.01M497.1 104.9h.01M487.2 100.2h.01M493.0 95.4h.01M500.4 99.2h.01M498.7 101.7h.01M501.4 99.9h.01M500.9 96.3h.01M510.1 103.8h.01M462.7 106.4h.01M481.0 102.2h.01M498.8 102.7h.01M501.0 106.0h.01M506.7 108.3h.01M472.3 98.3h.01M480.5 104.9h.01M493.7 105.4h.01M497.7 106.5h.01M500.1 103.3h.01M491.9 108.5h.01M484.3 108.7h.01M498.9 101.9h.01M505.4 108.2h.01M499.5 106.0h.01M496.2 102.6h.01M484.9 101.3h.01M495.7 101.1h.01M496.3 105.3h.01M495.4 102.4h.01M486.2 101.9h.01M478.8 105.3h.01M497.6 96.7h.01M495.6 98.9h.01M505.9 94.3h.01M497.1 98.2h.01M486.9 103.2h.01M483.3 104.0h.01M491.7 101.6h.01M497.2 107.6h.01M514.1 100.0h.01M491.7 97.2h.01M503.8 98.7h.01M481.2 107.3h.01M482.3 104.1h.01M505.9 96.8h.01M498.8 95.6h.01M498.3 104.5h.01M476.3 106.4h.01M493.7 102.1h.01M500.9 99.5h.01M488.4 103.2h.01M484.2 102.0h.01M481.6 101.9h.01M497.8 94.3h.01M500.3 101.0h.01M481.8 106.0h.01M491.3 102.9h.01M503.3 94.6h.01M487.0 96.4h.01M473.2 100.0h.01M496.4 106.5h.01M504.2 101.0h.01M504.8 106.0h.01M496.6 103.6h.01M494.5 105.0h.01M509.9 93.1h.01M472.5 103.6h.01M496.7 102.0h.01M484.0 104.4h.01M493.0 99.0h.01M474.2 102.4h.01M480.9 100.0h.01M500.5 95.1h.01M490.0 99.7h.01M494.8 100.3h.01M495.8 99.1h.01M493.6 104.5h.01M487.5 105.3h.01M506.2 101.8h.01M479.5 100.7h.01M505.2 102.4h.01M493.7 98.8h.01M478.9 100.4h.01M494.8 104.5h.01M479.3 99.7h.01M494.4 102.5h.01M486.8 105.3h.01M496.1 111.1h.01M484.2 101.2h.01" stroke="#222" stroke-opacity="0.32" stroke-width="1.00" stroke-linecap="round" fill="none"/>
<path d="M478.8 104.7h.01M493.5 101.5h.01M484.8 101.4h.01M485.1 99.3h.01M483.3 96.9h.01M497.9 102.3h.01M484.0 103.8h.01M489.1 103.5h.01M500.8 106.6h.01M483.2 100.4h.01M484.5 104.6h.01M488.6 104.6h.01M486.6 98.9h.01M489.8 98.2h.01M498.7 102.9h.01M489.4 101.3h.01M495.0 100.5h.01M484.4 102.3h.01M482.4 104.7h.01M481.0 103.4h.01M492.5 102.5h.01M483.0 102.9h.01M494.1 99.4h.01M478.7 103.9h.01M489.7 101.6h.01M490.9 101.3h.01M492.5 98.8h.01M501.1 99.6h.01M496.9 99.3h.01M501.0 101.1h.01M481.4 101.8h.01M484.5 103.8h.01M476.4 97.3h.01M486.9 99.5h.01M496.7 101.1h.01M485.5 103.3h.01M478.2 104.3h.01M480.3 102.9h.01M489.4 99.3h.01M488.8 104.4h.01M493.8 100.8h.01M487.9 100.4h.01M499.7 102.2h.01M495.4 102.5h.01M479.1 104.6h.01M485.3 101.8h.01M490.7 103.2h.01M487.8 103.6h.01M494.3 105.7h.01M487.2 104.2h.01M500.0 102.3h.01M500.1 99.7h.01M497.7 102.6h.01M498.5 103.3h.01M480.7 101.1h.01M486.2 97.4h.01M493.9 103.3h.01M494.2 99.9h.01M492.9 100.5h.01M500.7 98.3h.01M489.7 102.1h.01M478.4 107.1h.01M489.5 102.2h.01M487.0 106.0h.01M492.8 103.7h.01" stroke="#222" stroke-opacity="0.10" stroke-width="0.70" stroke-linecap="round" fill="none"/>
<path d="M489.2 101.5h.01M491.8 100.8h.01M479.3 97.5h.01M483.5 97.0h.01M476.5 102.4h.01M478.5 101.8h.01M482.9 103.8h.01M495.8 100.4h.01M493.3 99.1h.01M481.9 102.6h.01M493.5 101.2h.01M483.1 97.3h.01M494.4 102.7h.01M496.3 103.7h.01M498.6 99.1h.01M490.0 100.6h.01M488.7 101.2h.01M489.6 101.7h.01M483.7 105.5h.01M486.7 101.7h.01M480.9 102.2h.01M482.4 104.3h.01M485.0 103.2h.01M498.4 101.8h.01M498.6 97.3h.01M491.5 98.7h.01M496.6 99.5h.01M481.8 98.2h.01M490.8 103.2h.01M495.8 98.6h.01M490.0 101.7h.01M484.1 104.1h.01M484.5 100.1h.01M502.2 98.3h.01M489.0 101.3h.01M478.0 99.9h.01M498.9 104.6h.01M487.8 103.3h.01M504.4 103.2h.01M487.8 102.0h.01M500.8 97.5h.01M487.6 103.9h.01M489.4 103.3h.01M488.0 101.1h.01M490.3 100.3h.01M477.6 102.7h.01M494.1 99.8h.01M477.5 103.3h.01M480.9 101.0h.01M489.1 97.6h.01M495.7 102.0h.01M482.3 101.1h.01M491.8 101.9h.01M493.7 103.7h.01M506.1 103.6h.01M482.1 102.9h.01M493.8 99.5h.01M495.2 100.4h.01M487.1 99.2h.01M485.5 107.3h.01M492.0 98.3h.01M488.9 101.1h.01M490.9 102.5h.01" stroke="#222" stroke-opacity="0.17" stroke-width="0.80" stroke-linecap="round" fill="none"/>
<path d="M499.0 102.4h.01M487.6 98.0h.01M498.6 101.5h.01M507.3 102.3h.01M476.8 100.9h.01M499.5 104.1h.01M483.1 106.6h.01M479.7 100.3h.01M489.2 99.2h.01M488.4 101.8h.01M478.1 102.3h.01M486.3 102.9h.01M487.3 104.6h.01M490.5 102.9h.01M508.7 99.5h.01M496.3 100.8h.01M486.1 97.3h.01M484.9 98.5h.01M495.6 97.8h.01M481.8 102.2h.01M488.8 97.7h.01M483.6 105.3h.01M479.0 105.4h.01M487.5 97.7h.01M488.9 99.9h.01M470.8 103.9h.01M493.5 100.6h.01M482.4 100.0h.01M489.4 99.5h.01M489.7 101.7h.01M495.1 99.8h.01M487.9 97.1h.01M492.1 98.5h.01M493.3 104.1h.01M487.3 103.2h.01M489.2 97.6h.01M488.5 102.0h.01M480.5 100.1h.01M475.2 100.4h.01M493.0 101.7h.01M489.2 100.3h.01M488.3 100.2h.01M482.6 100.3h.01M485.6 103.8h.01M492.8 103.9h.01M487.8 104.6h.01M490.3 100.3h.01M483.4 98.9h.01M477.3 101.6h.01M487.7 97.7h.01M489.6 104.3h.01M502.5 101.5h.01M494.9 104.2h.01M490.1 102.1h.01M484.5 101.4h.01M495.7 104.6h.01M487.0 96.5h.01M490.9 102.7h.01M473.3 105.1h.01M492.0 100.9h.01M471.7 105.1h.01M485.7 98.0h.01M485.3 97.9h.01M500.5 104.0h.01" stroke="#222" stroke-opacity="0.23" stroke-width="0.90" stroke-linecap="round" fill="none"/>
<path d="M494.5 95.3h.01M490.0 99.1h.01M477.7 101.3h.01M484.6 104.4h.01M481.9 103.9h.01M506.3 104.5h.01M495.0 101.6h.01M493.5 103.8h.01M492.8 100.0h.01M486.3 98.5h.01M495.0 102.0h.01M478.0 106.1h.01M491.3 101.7h.01M494.8 103.2h.01M500.6 97.8h.01M488.8 97.3h.01M487.1 93.1h.01M484.9 100.1h.01M494.1 109.2h.01M485.6 105.2h.01M497.6 100.9h.01M501.3 100.4h.01M504.9 98.1h.01M483.0 101.3h.01M498.4 101.3h.01M495.8 101.2h.01M482.0 105.0h.01M481.1 103.1h.01M492.1 101.0h.01M486.7 102.2h.01M490.7 99.2h.01M475.2 95.7h.01M485.0 103.6h.01M509.4 103.5h.01M486.1 100.1h.01M491.1 96.6h.01M483.7 103.6h.01M494.7 98.8h.01M508.2 101.2h.01M484.6 100.0h.01M488.2 103.8h.01M485.6 99.9h.01M498.7 102.1h.01M490.0 98.1h.01M485.2 99.3h.01M482.0 96.2h.01M485.9 102.6h.01M482.2 105.1h.01M500.9 98.1h.01M491.6 99.1h.01M485.3 102.1h.01M473.1 103.5h.01M495.7 102.6h.01M483.2 101.8h.01M472.9 105.7h.01M485.9 102.1h.01M495.3 98.9h.01M478.7 98.2h.01M492.6 102.5h.01M488.7 101.6h.01M498.6 102.9h.01M490.1 98.7h.01M495.1 102.7h.01M474.1 100.0h.01M496.0 100.3h.01M497.8 102.5h.01M470.0 106.2h.01M489.1 99.0h.01" stroke="#222" stroke-opacity="0.30" stroke-width="1.00" stroke-linecap="round" fill="none"/>
<path d="M483.0 104.4h.01M472.2 104.9h.01M499.7 113.3h.01M473.0 106.9h.01M476.3 101.8h.01M462.7 102.7h.01M460.9 108.8h.01M483.2 103.3h.01M488.1 100.8h.01M486.7 99.3h.01M481.8 97.5h.01M481.1 107.8h.01M465.5 94.3h.01M479.7 97.8h.01M491.1 106.9h.01M491.7 110.9h.01M491.7 114.9h.01M486.3 102.0h.01M504.5 107.9h.01" stroke="#222" stroke-opacity="0.07" stroke-width="0.70" stroke-linecap="round" fill="none"/>
<path d="M500.9 93.9h.01M472.3 104.4h.01M473.0 102.9h.01M505.1 105.1h.01M501.8 97.9h.01M473.3 100.9h.01M489.2 102.9h.01M487.4 89.0h.01M484.8 106.7h.01M499.2 107.2h.01M491.8 108.8h.01M492.9 100.8h.01M482.0 98.6h.01M503.2 105.7h.01M479.9 105.5h.01M491.4 95.7h.01M476.1 110.1h.01M487.7 105.1h.01M478.0 100.6h.01M482.1 114.0h.01M488.1 104.3h.01M479.4 119.5h.01M439.1 114.0h.01M507.0 103.9h.01M481.4 103.6h.01M460.6 95.3h.01" stroke="#222" stroke-opacity="0.11" stroke-width="0.87" stroke-linecap="round" fill="none"/>
<path d="M482.8 98.2h.01M513.0 91.1h.01M455.4 111.7h.01M490.4 104.0h.01M513.6 111.1h.01M469.5 103.8h.01M496.9 109.9h.01M474.9 96.0h.01M495.9 102.1h.01M481.4 105.7h.01M446.0 107.2h.01M501.1 109.5h.01M485.2 96.2h.01M489.9 95.9h.01M462.7 102.8h.01M488.3 96.5h.01M492.3 117.2h.01M483.1 98.9h.01M494.5 105.4h.01M498.1 97.3h.01M496.0 97.3h.01" stroke="#222" stroke-opacity="0.14" stroke-width="1.03" stroke-linecap="round" fill="none"/>
<path d="M467.8 127.5h.01M498.0 105.0h.01M515.5 112.9h.01M498.9 97.8h.01M470.5 112.0h.01M483.5 115.5h.01M486.0 93.6h.01M440.7 111.5h.01M493.9 99.5h.01M493.7 106.3h.01M505.4 106.1h.01M489.8 101.8h.01M469.0 109.8h.01M481.6 107.5h.01M476.1 112.1h.01M468.8 108.0h.01M466.7 105.4h.01M487.4 101.7h.01M485.5 108.9h.01M502.3 114.2h.01M452.3 107.7h.01M476.3 114.7h.01M498.8 104.8h.01M473.8 108.1h.01" stroke="#222" stroke-opacity="0.18" stroke-width="1.20" stroke-linecap="round" fill="none"/>
<path d="M478.4 122.7h.01" stroke="#222" stroke-opacity="0.12" stroke-width="1.00" stroke-linecap="round" fill="none"/>
<path d="M449.4 146.9h.01" stroke="#222" stroke-opacity="0.15" stroke-width="1.13" stroke-linecap="round" fill="none"/>
<path d="M463.6 138.6h.01M437.9 139.6h.01M477.4 132.4h.01" stroke="#222" stroke-opacity="0.17" stroke-width="1.27" stroke-linecap="round" fill="none"/>
<path d="M450.3 133.7h.01M459.5 149.1h.01" stroke="#222" stroke-opacity="0.20" stroke-width="1.40" stroke-linecap="round" fill="none"/>
<path d="M435.4 56.6H545.4V165.1" fill="none" stroke="#333" stroke-width="1.0"/>
<path d="M435.4 56.0V165.1H546.0" fill="none" stroke="#111" stroke-width="2.0"/>
<line x1="435.4" y1="165.1" x2="435.4" y2="173.5" stroke="#111" stroke-width="1.8" stroke-linecap="butt"/>
<line x1="461.2" y1="165.1" x2="461.2" y2="173.5" stroke="#111" stroke-width="1.8" stroke-linecap="butt"/>
<line x1="489.3" y1="165.1" x2="489.3" y2="173.5" stroke="#111" stroke-width="1.8" stroke-linecap="butt"/>
<line x1="517.3" y1="165.1" x2="517.3" y2="173.5" stroke="#111" stroke-width="1.8" stroke-linecap="butt"/>
<line x1="545.4" y1="165.1" x2="545.4" y2="173.5" stroke="#111" stroke-width="1.8" stroke-linecap="butt"/>
<line x1="427.6" y1="56.6" x2="435.4" y2="56.6" stroke="#111" stroke-width="1.8" stroke-linecap="butt"/>
<line x1="427.6" y1="84.7" x2="435.4" y2="84.7" stroke="#111" stroke-width="1.8" stroke-linecap="butt"/>
<line x1="427.6" y1="112.2" x2="435.4" y2="112.2" stroke="#111" stroke-width="1.8" stroke-linecap="butt"/>
<line x1="427.6" y1="140.0" x2="435.4" y2="140.0" stroke="#111" stroke-width="1.8" stroke-linecap="butt"/>
<line x1="427.6" y1="165.1" x2="435.4" y2="165.1" stroke="#111" stroke-width="1.8" stroke-linecap="butt"/>
<rect x="461.7" y="81.2" width="60.5" height="39.2" fill="none" stroke="#2a2a2a" stroke-width="1.4"/>
<text x="476.9" y="77.4" font-size="13.4" text-anchor="start" textLength="25.9" lengthAdjust="spacingAndGlyphs">99.2</text>
<text transform="translate(421.1,128.6) rotate(-90)" font-size="17.6" text-anchor="start" textLength="34.6" lengthAdjust="spacingAndGlyphs">CD4</text>
<text x="465.6" y="194.1" font-size="17.6" text-anchor="start" textLength="44.8" lengthAdjust="spacingAndGlyphs">CD25</text>
<path d="M595.0 165.2L595.0 154.7L597.3 152.3L599.7 148.8L600.8 145.3L602.0 144.1L603.2 146.5L604.4 145.3L606.7 140.6L609.0 138.3L611.4 128.9L613.7 114.9L615.4 110.2L617.2 91.5L619.1 72.8L620.3 63.4L621.4 75.1L623.1 98.5L624.7 121.9L626.1 143.0L627.8 157.0L630.1 161.7L633.6 164.0L637.1 165.2Z" fill="#686868" stroke="none" stroke-width="0" stroke-linejoin="round"/>
<path d="M595.0 165.2L612.5 164.5L617.2 162.9L620.7 158.2L623.1 155.8L625.4 158.2L627.8 158.9L631.3 157.0L634.8 153.5L637.1 145.3L639.5 128.9L641.8 107.9L643.4 86.8L644.8 68.1L645.8 62.7L647.2 62.7L648.1 65.7L649.5 82.1L651.2 105.5L652.8 128.9L654.7 150.0L656.5 161.7L658.9 165.2" fill="none" stroke="#111" stroke-width="1.8" stroke-linejoin="round"/>
<path d="M595.0 56.4H704.4V165.2" fill="none" stroke="#333" stroke-width="1.0"/>
<path d="M595.0 55.8V165.2H705.0" fill="none" stroke="#111" stroke-width="2.0"/>
<line x1="595.0" y1="165.2" x2="595.0" y2="173.6" stroke="#111" stroke-width="1.8" stroke-linecap="butt"/>
<line x1="620.0" y1="165.2" x2="620.0" y2="173.6" stroke="#111" stroke-width="1.8" stroke-linecap="butt"/>
<line x1="647.7" y1="165.2" x2="647.7" y2="173.6" stroke="#111" stroke-width="1.8" stroke-linecap="butt"/>
<line x1="675.0" y1="165.2" x2="675.0" y2="173.6" stroke="#111" stroke-width="1.8" stroke-linecap="butt"/>
<line x1="704.2" y1="165.2" x2="704.2" y2="173.6" stroke="#111" stroke-width="1.8" stroke-linecap="butt"/>
<line x1="587.2" y1="56.4" x2="595.0" y2="56.4" stroke="#111" stroke-width="1.8" stroke-linecap="butt"/>
<line x1="587.2" y1="84.0" x2="595.0" y2="84.0" stroke="#111" stroke-width="1.8" stroke-linecap="butt"/>
<line x1="587.2" y1="112.0" x2="595.0" y2="112.0" stroke="#111" stroke-width="1.8" stroke-linecap="butt"/>
<line x1="587.2" y1="140.2" x2="595.0" y2="140.2" stroke="#111" stroke-width="1.8" stroke-linecap="butt"/>
<line x1="587.2" y1="165.2" x2="595.0" y2="165.2" stroke="#111" stroke-width="1.8" stroke-linecap="butt"/>
<text x="622.6" y="193.4" font-size="17.6" text-anchor="start" textLength="53.0" lengthAdjust="spacingAndGlyphs">FoxP3</text>
</g>
<g id="panelC">
<path d="M492.8 287.6h.01M505.2 298.7h.01M496.2 288.2h.01M497.2 299.2h.01M510.9 278.7h.01M500.8 284.5h.01M517.4 280.4h.01M501.1 281.6h.01M499.4 293.6h.01M503.6 280.8h.01M512.5 294.7h.01M508.0 289.4h.01M509.7 291.9h.01M506.6 291.5h.01M502.7 290.2h.01M510.3 279.9h.01M502.7 298.0h.01M510.0 291.3h.01M498.5 285.1h.01M505.9 282.5h.01M504.8 282.1h.01M510.1 275.7h.01M506.1 280.8h.01M507.5 284.5h.01M501.9 294.9h.01M503.5 299.2h.01M509.4 280.9h.01M497.2 288.3h.01M495.3 299.4h.01M503.9 300.4h.01M507.9 290.3h.01M500.9 286.7h.01M508.3 293.9h.01M503.8 292.4h.01M504.1 286.8h.01M511.2 281.6h.01M506.5 294.1h.01M487.8 291.4h.01M500.5 287.0h.01M491.4 305.8h.01M498.0 289.7h.01M508.4 276.2h.01M499.9 289.5h.01M500.1 294.3h.01M510.2 283.7h.01M509.3 287.6h.01M512.1 278.3h.01M497.7 292.7h.01M505.5 288.6h.01M511.3 290.8h.01M506.0 278.6h.01M502.8 275.7h.01M504.5 288.2h.01M505.4 288.5h.01M492.9 286.9h.01M502.5 284.4h.01M511.3 278.0h.01M498.5 276.9h.01M493.3 301.4h.01M506.9 279.7h.01M508.5 276.4h.01M503.1 283.3h.01M507.0 280.4h.01M498.1 294.4h.01M506.3 275.5h.01M497.7 293.8h.01M498.1 298.5h.01M497.0 277.3h.01M505.4 279.1h.01M506.0 275.0h.01M503.5 284.3h.01M510.2 298.1h.01M504.4 290.5h.01M502.8 294.6h.01M504.5 291.6h.01M487.5 293.4h.01M506.6 282.4h.01M504.1 283.1h.01M508.9 273.7h.01M504.5 285.6h.01M491.5 290.4h.01M504.4 287.0h.01M504.7 293.2h.01M493.6 298.9h.01M503.3 284.8h.01M516.8 283.2h.01M489.4 295.7h.01M514.9 284.9h.01M516.2 289.3h.01M510.7 286.9h.01M511.5 287.4h.01M505.8 282.8h.01M507.0 283.6h.01M503.9 304.4h.01M512.6 296.1h.01M524.2 272.3h.01M514.1 281.6h.01M510.1 290.3h.01M521.1 275.8h.01M511.3 277.4h.01M495.4 293.9h.01M512.0 291.6h.01M502.1 296.0h.01M507.3 280.0h.01M501.4 282.1h.01M501.7 291.8h.01M508.8 291.1h.01M502.6 288.3h.01M512.9 282.4h.01M511.0 292.0h.01M509.3 273.6h.01M513.8 286.8h.01M497.6 288.2h.01M506.3 275.2h.01M504.7 273.3h.01M508.5 289.2h.01M503.7 291.7h.01M517.3 284.9h.01M498.9 283.6h.01M504.4 285.6h.01M514.9 282.3h.01M502.7 290.4h.01M517.3 277.9h.01M494.8 300.7h.01M504.3 277.5h.01M496.0 291.7h.01M492.5 282.6h.01M499.0 277.0h.01M501.8 287.3h.01M504.0 292.7h.01M496.9 309.2h.01M501.3 299.1h.01M505.4 283.9h.01M513.3 286.3h.01M505.4 280.6h.01M506.5 288.8h.01M505.0 288.6h.01M513.7 278.2h.01M509.4 284.4h.01M504.7 280.9h.01M506.5 274.6h.01M506.2 294.9h.01M497.0 296.0h.01M509.5 273.7h.01M508.0 286.8h.01M501.6 292.9h.01M510.3 290.6h.01M508.4 275.5h.01M503.4 296.2h.01M495.4 288.3h.01M507.5 272.4h.01M503.2 278.0h.01M498.4 285.3h.01M506.2 284.9h.01M499.3 286.5h.01M510.3 290.5h.01M500.9 282.5h.01M509.9 299.6h.01M505.1 294.1h.01M511.6 281.7h.01M507.9 290.7h.01M500.4 293.5h.01M512.7 275.7h.01M516.7 274.3h.01M510.8 290.1h.01M507.4 283.5h.01M500.7 293.1h.01M511.6 286.3h.01M489.3 291.0h.01M503.4 280.9h.01M507.8 274.2h.01M496.7 278.6h.01M503.2 283.2h.01M501.6 284.7h.01M506.9 292.2h.01M503.0 279.7h.01M514.4 283.9h.01M494.0 283.5h.01M499.3 292.1h.01M509.8 282.3h.01M506.3 295.0h.01" stroke="#222" stroke-opacity="0.10" stroke-width="0.70" stroke-linecap="round" fill="none"/>
<path d="M504.4 277.4h.01M503.6 280.6h.01M496.2 295.3h.01M513.2 280.8h.01M503.9 297.5h.01M505.7 292.9h.01M492.6 289.7h.01M498.8 298.8h.01M505.8 295.1h.01M504.3 281.5h.01M501.4 289.8h.01M502.3 287.5h.01M509.2 281.3h.01M499.1 299.4h.01M506.0 278.1h.01M505.8 284.5h.01M508.1 279.2h.01M498.1 289.2h.01M503.0 284.6h.01M513.0 289.1h.01M497.8 293.6h.01M510.1 288.9h.01M509.2 291.5h.01M511.8 283.4h.01M501.9 279.6h.01M509.1 281.9h.01M512.6 284.6h.01M495.7 302.3h.01M501.0 286.8h.01M502.7 277.2h.01M503.5 290.6h.01M501.0 285.5h.01M507.3 285.4h.01M500.1 307.7h.01M513.1 285.2h.01M510.3 279.8h.01M509.1 281.6h.01M510.2 282.0h.01M511.5 279.5h.01M504.9 290.4h.01M506.3 286.0h.01M497.3 293.7h.01M501.4 287.8h.01M499.5 288.2h.01M496.1 302.5h.01M511.5 287.9h.01M501.7 298.1h.01M498.4 299.0h.01M511.7 288.2h.01M507.8 290.4h.01M503.8 294.6h.01M499.4 296.0h.01M507.1 290.3h.01M501.0 283.7h.01M511.0 289.6h.01M507.3 284.3h.01M503.6 289.4h.01M509.4 285.8h.01M510.4 283.4h.01M508.5 275.7h.01M504.2 291.8h.01M496.6 294.2h.01M498.7 296.2h.01M504.1 286.0h.01M509.0 299.5h.01M504.8 283.8h.01M504.1 294.8h.01M504.2 287.6h.01M500.1 286.1h.01M506.0 289.0h.01M514.4 273.2h.01M500.2 289.5h.01M499.7 299.2h.01M506.4 301.3h.01M497.5 292.7h.01M510.0 284.0h.01M500.1 288.8h.01M501.6 276.1h.01M502.3 283.6h.01M514.7 279.6h.01M506.7 277.9h.01M503.9 289.0h.01M501.9 279.9h.01M495.0 296.3h.01M507.0 293.9h.01M507.8 296.3h.01M500.5 295.1h.01M504.3 279.0h.01M509.4 291.0h.01M509.1 286.7h.01M510.4 279.7h.01M498.5 289.5h.01M513.3 282.1h.01M503.5 280.7h.01M501.1 293.4h.01M506.0 299.6h.01M515.8 287.9h.01M515.8 277.6h.01M506.9 297.3h.01M503.9 293.2h.01M510.1 297.9h.01M500.1 302.5h.01M511.0 282.2h.01M505.9 286.0h.01M499.0 290.6h.01M513.2 286.3h.01M507.7 278.2h.01M502.8 283.1h.01M503.0 286.4h.01M501.1 291.4h.01M501.9 298.0h.01M505.5 273.1h.01M503.8 287.5h.01M501.2 286.9h.01M498.4 282.6h.01M511.2 292.6h.01M507.1 299.1h.01M517.4 286.5h.01M508.0 275.4h.01M505.7 298.0h.01M503.1 281.3h.01M504.6 284.3h.01M495.4 283.7h.01M515.6 281.3h.01M503.0 290.8h.01M500.0 288.9h.01M511.6 287.1h.01M509.8 275.2h.01M508.4 286.8h.01M507.8 277.3h.01M500.8 286.1h.01M509.9 290.4h.01M508.3 292.7h.01M500.0 279.8h.01M503.6 278.0h.01M501.8 273.0h.01M507.1 293.4h.01M508.1 297.0h.01M506.4 284.8h.01M509.6 285.2h.01M511.0 297.7h.01M505.7 278.2h.01M499.4 296.7h.01M510.5 274.2h.01M511.1 290.0h.01M513.7 285.9h.01M509.6 285.9h.01M500.4 281.6h.01M503.5 293.4h.01M504.3 282.7h.01M507.9 298.1h.01M510.5 280.7h.01M502.3 284.4h.01M511.1 283.2h.01M501.7 285.4h.01M507.1 296.5h.01M507.5 281.0h.01M502.1 286.0h.01M509.4 286.1h.01M516.2 281.9h.01M500.2 288.6h.01M509.6 285.1h.01M498.4 291.6h.01M495.9 299.4h.01M500.0 283.5h.01M498.5 293.6h.01M507.5 301.0h.01M500.1 293.6h.01M495.5 299.4h.01M501.9 291.1h.01M504.5 290.6h.01M505.4 294.3h.01M502.6 277.2h.01M509.4 288.8h.01M517.9 284.5h.01M505.8 299.3h.01M503.8 297.2h.01M504.6 281.8h.01M510.4 290.1h.01M500.2 294.7h.01M506.0 292.6h.01M498.6 297.5h.01M504.2 278.2h.01M503.9 288.0h.01M504.3 287.3h.01M512.8 285.5h.01M512.4 291.6h.01M499.0 288.6h.01M508.1 279.0h.01M507.8 277.4h.01M506.1 287.2h.01M505.3 286.7h.01M504.5 291.5h.01M505.7 312.2h.01M509.4 294.9h.01M504.6 289.3h.01M517.0 275.1h.01M505.8 288.7h.01M519.0 280.2h.01M493.5 290.0h.01M510.2 282.4h.01M507.6 290.6h.01M519.7 276.9h.01M508.3 281.1h.01" stroke="#222" stroke-opacity="0.17" stroke-width="0.80" stroke-linecap="round" fill="none"/>
<path d="M508.9 290.1h.01M505.0 287.9h.01M506.4 276.7h.01M500.9 293.2h.01M496.1 297.7h.01M493.2 302.9h.01M502.9 286.9h.01M506.0 299.3h.01M505.7 284.4h.01M509.4 276.2h.01M498.8 283.8h.01M506.3 297.2h.01M515.8 295.4h.01M506.1 274.7h.01M508.6 303.8h.01M508.2 289.2h.01M505.4 285.1h.01M508.5 285.9h.01M507.0 295.7h.01M506.1 281.3h.01M508.7 272.3h.01M506.4 289.9h.01M500.2 287.1h.01M505.1 291.2h.01M508.6 277.6h.01M503.0 289.4h.01M505.5 288.0h.01M501.0 286.7h.01M501.1 287.1h.01M505.7 298.6h.01M501.9 286.1h.01M503.8 287.0h.01M511.7 275.7h.01M496.1 284.8h.01M499.4 287.9h.01M510.9 280.5h.01M495.5 289.6h.01M505.6 288.1h.01M504.3 292.0h.01M518.0 274.0h.01M499.5 293.7h.01M508.8 280.2h.01M514.1 272.7h.01M496.6 304.4h.01M507.4 290.7h.01M509.6 278.8h.01M504.2 286.7h.01M506.3 281.5h.01M496.2 283.9h.01M501.7 278.6h.01M502.9 292.6h.01M509.7 287.2h.01M511.5 284.6h.01M504.6 299.6h.01M508.8 288.3h.01M510.7 282.1h.01M509.1 286.9h.01M500.5 292.5h.01M501.3 280.4h.01M489.3 297.6h.01M501.1 291.3h.01M509.7 287.0h.01M495.3 302.3h.01M512.0 277.9h.01M511.7 274.5h.01M503.5 296.0h.01M511.1 280.5h.01M505.3 275.1h.01M498.7 294.1h.01M494.2 294.8h.01M514.0 287.5h.01M507.2 285.0h.01M507.2 273.2h.01M513.7 287.8h.01M502.4 294.7h.01M505.3 281.8h.01M501.0 286.8h.01M502.7 280.0h.01M492.7 295.2h.01M501.8 285.6h.01M497.5 304.7h.01M501.6 284.1h.01M502.4 291.9h.01M511.4 282.2h.01M492.3 306.5h.01M502.1 291.9h.01M503.7 284.9h.01M501.8 289.5h.01M497.6 282.0h.01M516.1 295.6h.01M498.4 294.8h.01M510.5 289.0h.01M508.7 279.8h.01M512.1 291.4h.01M505.3 290.3h.01M499.0 289.9h.01M503.8 292.6h.01M506.3 282.9h.01M505.8 299.3h.01M500.5 306.8h.01M510.8 286.0h.01M507.6 286.7h.01M500.1 289.3h.01M502.6 293.4h.01M504.6 299.1h.01M505.0 287.1h.01M511.7 280.6h.01M504.6 275.6h.01M513.2 297.6h.01M502.5 292.1h.01M500.6 285.3h.01M504.3 279.3h.01M506.4 284.7h.01M511.2 273.2h.01M505.7 294.3h.01M505.2 296.0h.01M508.1 283.8h.01M505.4 295.3h.01M508.1 288.8h.01M509.4 280.5h.01M508.7 283.9h.01M489.7 289.2h.01M492.8 291.1h.01M507.8 290.4h.01M509.8 277.8h.01M507.6 290.7h.01M514.8 291.7h.01M504.6 289.4h.01M492.8 299.7h.01M503.9 284.4h.01M499.9 282.2h.01M511.0 272.3h.01M502.2 291.3h.01M500.4 293.4h.01M509.9 282.6h.01M509.9 280.6h.01M510.0 274.5h.01M503.9 300.1h.01M496.6 279.6h.01M505.3 279.2h.01M509.3 299.3h.01M502.6 282.3h.01M510.3 282.9h.01M508.5 272.8h.01M512.0 278.0h.01M522.1 280.2h.01M504.6 285.7h.01M507.5 291.9h.01M507.0 279.0h.01M497.0 297.6h.01M507.1 281.8h.01M503.3 274.4h.01M506.7 280.7h.01M504.0 288.9h.01M507.8 289.7h.01M504.0 303.4h.01M506.7 286.5h.01M500.3 299.6h.01M507.2 288.4h.01M502.4 272.4h.01M505.2 290.4h.01M497.6 305.8h.01M494.6 297.9h.01M492.9 293.0h.01M512.4 282.0h.01M500.4 290.6h.01M505.0 299.9h.01M500.6 298.3h.01M508.7 292.4h.01M506.5 288.1h.01M504.9 292.6h.01M506.8 291.4h.01M503.1 291.4h.01M512.4 290.6h.01M506.5 282.2h.01M502.5 293.6h.01M510.4 278.1h.01M493.0 304.0h.01M506.6 290.2h.01M512.0 285.3h.01M508.5 278.9h.01M511.1 285.3h.01M513.9 293.5h.01M491.1 290.7h.01M501.5 288.0h.01M509.1 281.9h.01M505.7 290.5h.01M506.6 291.0h.01M506.0 286.6h.01M504.6 284.9h.01M500.3 294.4h.01M507.7 293.7h.01M502.1 293.3h.01M510.8 277.7h.01M508.8 280.7h.01M513.9 275.9h.01M501.4 296.1h.01M513.1 277.5h.01" stroke="#222" stroke-opacity="0.25" stroke-width="0.90" stroke-linecap="round" fill="none"/>
<path d="M496.2 293.9h.01M508.3 286.3h.01M505.1 284.6h.01M510.4 276.8h.01M517.1 276.0h.01M515.5 279.5h.01M495.7 291.7h.01M497.6 291.9h.01M506.5 288.5h.01M506.5 296.6h.01M504.7 279.8h.01M502.7 286.0h.01M503.5 283.2h.01M504.6 276.7h.01M503.3 292.0h.01M502.1 293.4h.01M510.8 280.2h.01M495.1 301.3h.01M502.6 290.4h.01M513.8 275.8h.01M504.6 302.4h.01M502.7 304.2h.01M509.5 290.1h.01M503.1 274.9h.01M511.2 277.2h.01M510.3 290.4h.01M510.3 291.6h.01M509.1 287.0h.01M516.5 288.4h.01M514.9 278.3h.01M497.5 299.8h.01M493.5 286.6h.01M508.5 284.6h.01M509.3 273.7h.01M505.2 287.3h.01M499.8 280.2h.01M502.8 286.5h.01M505.7 278.0h.01M508.0 273.9h.01M502.6 292.3h.01M522.6 280.2h.01M501.1 277.3h.01M496.2 281.4h.01M511.6 276.1h.01M504.0 285.7h.01M494.4 293.3h.01M498.5 296.4h.01M504.7 275.6h.01M500.8 283.5h.01M497.9 285.6h.01M498.6 291.9h.01M510.6 283.2h.01M500.0 294.0h.01M501.3 291.6h.01M512.6 288.7h.01M504.5 282.3h.01M512.2 285.2h.01M513.9 275.8h.01M503.2 273.3h.01M510.3 285.7h.01M511.4 274.3h.01M507.8 282.0h.01M496.7 307.3h.01M507.9 290.0h.01M506.5 289.3h.01M508.6 288.6h.01M502.4 294.4h.01M506.2 281.1h.01M505.0 275.6h.01M506.4 277.9h.01M511.7 279.6h.01M512.0 288.2h.01M503.9 301.2h.01M508.1 275.0h.01M501.8 301.6h.01M505.2 289.0h.01M503.8 299.9h.01M512.6 280.1h.01M506.4 299.6h.01M500.6 285.3h.01M501.1 285.2h.01M500.2 278.4h.01M500.6 293.8h.01M496.8 289.3h.01M504.3 278.7h.01M496.3 290.6h.01M502.5 281.5h.01M509.6 283.3h.01M499.4 287.1h.01M504.9 284.4h.01M500.5 295.3h.01M499.9 296.8h.01M513.7 296.9h.01M515.9 273.8h.01M498.8 298.9h.01M506.5 280.6h.01M504.8 285.4h.01M506.3 288.3h.01M503.7 297.4h.01M505.4 286.4h.01M509.1 281.8h.01M501.8 287.2h.01M498.9 280.5h.01M498.2 293.8h.01M500.3 290.0h.01M504.7 285.2h.01M509.2 282.0h.01M498.5 285.6h.01M509.8 289.4h.01M499.4 284.3h.01M509.3 281.4h.01M498.7 299.7h.01M507.6 279.4h.01M502.6 290.5h.01M496.9 304.0h.01M501.7 288.5h.01M497.5 302.2h.01M514.3 278.5h.01M505.8 286.3h.01M503.6 291.3h.01M503.9 285.6h.01M506.8 288.8h.01M501.1 296.4h.01M511.3 290.6h.01M512.2 272.3h.01M500.7 289.8h.01M498.4 297.5h.01M513.1 273.5h.01M508.9 278.2h.01M508.2 288.5h.01M505.4 302.4h.01M508.3 279.6h.01M512.4 274.3h.01M489.1 294.5h.01M507.2 284.7h.01M507.6 281.1h.01M505.9 281.3h.01M504.8 306.0h.01M519.5 280.8h.01M509.0 285.7h.01M512.7 292.9h.01M504.9 307.2h.01M503.9 287.2h.01M508.1 272.1h.01M514.3 272.7h.01M505.9 281.1h.01M511.8 276.0h.01M512.7 286.2h.01M512.3 292.3h.01M495.5 296.8h.01M507.4 289.9h.01M512.4 288.9h.01M511.3 274.3h.01M499.4 285.1h.01M495.1 287.6h.01M505.7 287.3h.01M509.1 278.4h.01M500.8 288.5h.01M503.6 290.9h.01M507.5 290.3h.01M519.1 289.6h.01M517.7 290.4h.01M499.4 281.7h.01M499.0 288.9h.01M501.6 285.4h.01M495.5 301.1h.01M512.1 294.6h.01M495.7 298.0h.01M501.8 292.4h.01M512.2 275.6h.01M501.6 296.6h.01M497.0 286.5h.01M508.7 285.8h.01M501.7 291.7h.01M504.9 294.8h.01M506.4 288.0h.01M493.0 296.5h.01M507.4 288.8h.01M512.1 288.6h.01M504.9 273.7h.01M501.6 290.7h.01M508.8 286.8h.01M505.6 291.9h.01M510.1 279.3h.01" stroke="#222" stroke-opacity="0.32" stroke-width="1.00" stroke-linecap="round" fill="none"/>
<path d="M511.9 278.1h.01M506.8 282.7h.01M503.9 287.1h.01M506.3 276.9h.01M509.1 286.3h.01M507.6 275.2h.01M510.7 283.2h.01M511.9 284.7h.01M509.4 279.3h.01M507.2 277.7h.01M512.3 288.1h.01M510.2 279.2h.01M507.7 280.2h.01M509.2 289.0h.01M507.4 273.7h.01M505.3 281.6h.01M503.9 282.6h.01M505.1 284.3h.01M503.5 290.0h.01M503.9 277.2h.01M513.7 278.5h.01M502.4 289.1h.01M512.3 276.5h.01M511.8 282.6h.01M506.9 282.8h.01M507.9 277.7h.01M508.5 275.7h.01M508.3 279.9h.01M513.4 290.4h.01M516.1 280.2h.01M509.9 286.7h.01M508.6 282.8h.01M510.3 288.6h.01M509.6 283.3h.01M513.6 276.1h.01M505.1 276.3h.01M507.4 289.7h.01M504.6 281.5h.01M505.9 282.2h.01M510.7 278.9h.01M503.9 287.3h.01M505.4 288.9h.01M511.9 279.0h.01M504.2 290.8h.01M503.0 292.6h.01M514.8 280.0h.01M507.1 273.8h.01M505.9 278.5h.01M508.4 288.6h.01M512.2 279.6h.01M507.0 278.1h.01M511.8 281.5h.01M510.8 281.5h.01M505.7 287.3h.01M510.4 278.3h.01M512.7 281.2h.01M510.4 289.8h.01M507.9 281.3h.01M502.8 287.1h.01M503.8 281.1h.01M513.3 280.1h.01M505.4 278.6h.01M510.0 281.7h.01M504.5 283.3h.01M509.4 284.1h.01M501.6 285.6h.01M508.1 280.6h.01M513.9 274.1h.01M510.8 281.6h.01M506.5 275.9h.01M508.4 282.9h.01M505.3 281.8h.01" stroke="#222" stroke-opacity="0.10" stroke-width="0.70" stroke-linecap="round" fill="none"/>
<path d="M510.3 280.1h.01M506.1 282.9h.01M509.5 286.4h.01M506.0 272.6h.01M506.6 277.4h.01M503.4 283.3h.01M513.6 278.7h.01M515.2 277.2h.01M508.0 274.7h.01M509.5 282.1h.01M510.3 273.3h.01M510.1 282.6h.01M508.0 273.7h.01M505.6 280.7h.01M506.4 280.6h.01M499.8 284.3h.01M511.0 284.4h.01M514.4 274.4h.01M505.5 278.9h.01M505.9 283.1h.01M514.1 275.9h.01M508.1 285.8h.01M511.2 287.3h.01M501.9 280.7h.01M507.9 280.0h.01M503.6 283.6h.01M506.8 281.9h.01M507.1 280.7h.01M508.0 279.5h.01M508.6 282.0h.01M513.6 279.7h.01M508.5 281.3h.01M505.4 285.7h.01M510.7 280.2h.01M503.1 286.8h.01M506.1 277.5h.01M512.1 281.9h.01M511.8 279.6h.01M515.7 278.6h.01M508.7 284.8h.01M504.0 287.6h.01M509.0 283.2h.01M509.1 287.2h.01M511.4 277.4h.01M508.7 284.4h.01M503.8 290.3h.01M502.0 289.3h.01M503.0 286.3h.01M501.0 286.8h.01M503.8 276.9h.01M510.3 284.0h.01M509.6 286.5h.01M505.2 281.0h.01M503.2 275.1h.01M507.9 288.1h.01M500.2 294.5h.01M503.8 286.0h.01M505.8 280.7h.01M510.4 285.4h.01M508.5 283.4h.01M510.7 274.6h.01M507.4 276.2h.01M509.0 282.0h.01M511.4 290.2h.01M513.3 275.0h.01M514.1 277.7h.01M509.6 283.9h.01M502.9 281.2h.01M508.4 281.5h.01M503.3 290.5h.01M506.6 283.6h.01M506.4 290.3h.01M507.9 280.4h.01M508.3 285.1h.01M508.5 275.2h.01M509.2 279.4h.01M507.9 285.9h.01M510.4 281.8h.01M509.6 278.4h.01M513.6 279.5h.01M503.6 281.5h.01M506.2 276.1h.01" stroke="#222" stroke-opacity="0.17" stroke-width="0.80" stroke-linecap="round" fill="none"/>
<path d="M510.0 283.3h.01M507.4 281.2h.01M507.0 283.6h.01M514.1 282.0h.01M510.9 276.8h.01M512.2 284.0h.01M507.7 283.6h.01M511.4 287.8h.01M512.8 287.6h.01M512.9 281.4h.01M505.6 284.0h.01M509.5 283.9h.01M505.5 284.7h.01M502.0 278.3h.01M505.5 289.9h.01M507.4 281.8h.01M511.6 281.1h.01M506.6 289.3h.01M507.6 281.5h.01M507.7 280.4h.01M514.9 281.3h.01M515.6 272.8h.01M511.7 278.9h.01M509.3 286.7h.01M506.0 283.7h.01M506.4 278.7h.01M502.7 288.2h.01M505.5 277.8h.01M503.2 278.4h.01M510.1 275.3h.01M509.7 281.3h.01M508.7 274.4h.01M507.0 287.5h.01M511.4 283.2h.01M509.4 285.7h.01M511.4 285.4h.01M509.3 280.9h.01M511.9 283.7h.01M512.4 279.4h.01M503.1 290.4h.01M500.5 283.5h.01M508.5 278.4h.01M510.9 284.9h.01M505.6 281.3h.01M511.6 276.0h.01M508.0 280.4h.01M506.8 282.8h.01M507.6 283.9h.01M504.3 279.7h.01M509.0 289.5h.01M504.3 279.1h.01M511.5 281.1h.01M512.5 278.4h.01M502.4 289.5h.01M509.5 278.5h.01M511.1 276.8h.01M505.7 285.9h.01M513.1 286.9h.01M509.4 275.9h.01M507.2 280.6h.01M503.7 279.2h.01M514.7 278.0h.01M510.4 274.7h.01M509.0 278.6h.01M502.4 280.1h.01M500.8 288.8h.01M512.0 286.2h.01M507.3 288.9h.01M509.7 277.1h.01M506.7 278.1h.01M507.7 289.3h.01M512.3 276.3h.01M508.3 275.3h.01M506.5 286.3h.01M509.8 285.1h.01M506.5 281.8h.01M507.6 278.0h.01M506.1 278.8h.01M505.2 277.7h.01M499.0 278.9h.01M500.0 278.3h.01M506.8 285.6h.01M508.0 282.6h.01M510.2 276.4h.01M509.1 283.1h.01M507.2 282.2h.01M512.8 274.1h.01M515.2 284.9h.01M500.1 281.8h.01M503.0 285.9h.01" stroke="#222" stroke-opacity="0.25" stroke-width="0.90" stroke-linecap="round" fill="none"/>
<path d="M514.3 275.3h.01M509.3 281.2h.01M506.1 284.4h.01M504.6 282.7h.01M515.0 278.8h.01M509.9 285.3h.01M508.6 281.3h.01M508.0 290.9h.01M512.5 279.2h.01M509.0 278.2h.01M511.2 276.1h.01M511.3 287.6h.01M508.6 274.6h.01M502.4 293.1h.01M507.9 278.0h.01M511.9 287.0h.01M505.8 284.8h.01M501.0 285.4h.01M500.7 274.8h.01M509.9 288.2h.01M507.9 288.7h.01M504.1 281.9h.01M510.2 274.5h.01M505.3 286.2h.01M507.7 284.7h.01M507.5 288.1h.01M508.0 284.4h.01M509.8 278.2h.01M503.6 285.1h.01M509.9 288.7h.01M510.6 276.1h.01M506.9 275.1h.01M509.5 284.3h.01M512.8 278.0h.01M508.0 283.8h.01M511.2 285.4h.01M511.9 284.3h.01M504.5 288.1h.01M507.1 283.7h.01M509.3 283.3h.01M512.6 279.7h.01M504.6 287.0h.01M506.5 284.7h.01M500.9 283.3h.01M506.2 283.8h.01M510.1 281.8h.01M506.6 279.5h.01M510.5 284.0h.01M498.9 289.8h.01M504.3 284.8h.01M506.6 280.5h.01M508.8 288.4h.01M509.7 280.9h.01M510.0 281.5h.01M506.2 289.7h.01M504.5 280.4h.01M511.7 274.9h.01M508.7 284.2h.01M511.0 283.8h.01M508.4 281.1h.01M508.4 291.6h.01M509.9 285.6h.01M509.0 273.6h.01M510.5 280.7h.01M503.3 288.1h.01M510.7 279.0h.01M506.9 285.3h.01M510.0 283.8h.01M501.2 285.4h.01M508.2 283.0h.01M504.1 291.9h.01M506.4 282.0h.01M510.8 281.7h.01" stroke="#222" stroke-opacity="0.32" stroke-width="1.00" stroke-linecap="round" fill="none"/>
<path d="M510.2 317.0h.01M492.7 297.7h.01M497.6 303.2h.01M499.6 285.0h.01M505.5 274.4h.01M491.3 305.8h.01M505.6 296.7h.01M504.3 301.3h.01M490.8 303.9h.01M509.6 288.0h.01M488.3 288.7h.01M497.7 296.3h.01M498.0 286.7h.01M507.7 287.0h.01M506.3 285.3h.01M494.5 296.1h.01M492.4 312.0h.01M494.2 291.7h.01M498.6 298.3h.01M502.6 308.3h.01M499.5 290.8h.01M495.6 301.5h.01M510.1 310.3h.01M495.9 305.1h.01M498.1 298.1h.01M489.2 304.9h.01M520.3 285.0h.01M496.4 297.5h.01M492.8 288.4h.01M489.1 300.0h.01M497.8 284.3h.01M507.6 307.1h.01M505.3 292.7h.01M489.6 295.8h.01M503.7 281.0h.01M500.0 293.0h.01" stroke="#222" stroke-opacity="0.07" stroke-width="0.70" stroke-linecap="round" fill="none"/>
<path d="M519.7 272.9h.01M494.8 290.8h.01M502.1 277.2h.01M504.8 277.7h.01M500.0 275.9h.01M504.5 293.3h.01M497.1 281.8h.01M499.0 308.5h.01M506.8 290.2h.01M489.2 293.5h.01M496.6 294.1h.01M496.5 296.5h.01M495.5 291.7h.01M479.8 297.1h.01M505.2 287.7h.01M498.6 288.6h.01M514.4 279.2h.01M508.2 299.6h.01M505.1 276.0h.01M509.6 290.1h.01M509.9 291.0h.01M489.0 310.8h.01M505.6 300.4h.01M495.0 291.9h.01M504.2 301.9h.01M491.4 299.9h.01M504.1 298.5h.01M493.6 315.6h.01M502.0 293.7h.01M502.6 289.3h.01M491.8 285.1h.01M497.4 291.0h.01M498.8 290.0h.01M498.2 295.5h.01" stroke="#222" stroke-opacity="0.11" stroke-width="0.87" stroke-linecap="round" fill="none"/>
<path d="M500.9 272.6h.01M494.6 315.0h.01M503.0 293.9h.01M499.2 290.4h.01M496.3 270.8h.01M515.3 261.0h.01M501.5 303.0h.01M506.4 283.5h.01M504.5 286.9h.01M500.6 301.3h.01M500.5 304.6h.01M499.3 284.8h.01M503.7 302.7h.01M492.9 290.9h.01M496.1 310.7h.01M507.3 317.8h.01M509.0 287.4h.01M489.3 314.1h.01M501.5 302.5h.01M513.7 280.9h.01M488.1 293.2h.01M498.7 314.1h.01M506.8 290.9h.01M502.0 307.9h.01M497.9 289.2h.01M502.9 292.2h.01M501.8 305.8h.01M502.7 294.1h.01M492.5 301.8h.01M503.9 303.5h.01M506.1 279.6h.01M506.2 296.8h.01M503.2 293.9h.01" stroke="#222" stroke-opacity="0.14" stroke-width="1.03" stroke-linecap="round" fill="none"/>
<path d="M491.0 293.7h.01M516.1 274.8h.01M502.0 297.2h.01M499.7 290.2h.01M506.2 300.4h.01M483.2 315.2h.01M496.4 264.9h.01M500.3 295.8h.01M505.0 309.7h.01M487.8 279.9h.01M485.0 292.1h.01M488.8 292.6h.01M502.3 289.7h.01M498.3 305.4h.01M499.2 298.0h.01M500.7 292.9h.01M498.1 303.3h.01M493.6 300.3h.01M499.1 291.4h.01M504.5 286.3h.01M496.2 285.8h.01M508.4 288.7h.01M508.3 285.7h.01M504.2 278.1h.01M500.3 280.1h.01M508.6 287.8h.01M508.9 290.8h.01M504.1 299.5h.01M502.6 292.3h.01M512.4 288.8h.01M498.7 297.1h.01M496.7 295.4h.01M503.5 277.4h.01M484.7 305.1h.01M505.2 278.4h.01M499.1 285.8h.01M496.9 297.4h.01" stroke="#222" stroke-opacity="0.18" stroke-width="1.20" stroke-linecap="round" fill="none"/>
<path d="M435.4 212.1H545.4V320.6" fill="none" stroke="#333" stroke-width="1.0"/>
<path d="M435.4 211.5V320.6H546.0" fill="none" stroke="#111" stroke-width="2.0"/>
<line x1="435.4" y1="320.6" x2="435.4" y2="329.0" stroke="#111" stroke-width="1.8" stroke-linecap="butt"/>
<line x1="461.2" y1="320.6" x2="461.2" y2="329.0" stroke="#111" stroke-width="1.8" stroke-linecap="butt"/>
<line x1="489.3" y1="320.6" x2="489.3" y2="329.0" stroke="#111" stroke-width="1.8" stroke-linecap="butt"/>
<line x1="516.5" y1="320.6" x2="516.5" y2="329.0" stroke="#111" stroke-width="1.8" stroke-linecap="butt"/>
<line x1="545.4" y1="320.6" x2="545.4" y2="329.0" stroke="#111" stroke-width="1.8" stroke-linecap="butt"/>
<line x1="427.6" y1="212.1" x2="435.4" y2="212.1" stroke="#111" stroke-width="1.8" stroke-linecap="butt"/>
<line x1="427.6" y1="240.2" x2="435.4" y2="240.2" stroke="#111" stroke-width="1.8" stroke-linecap="butt"/>
<line x1="427.6" y1="267.8" x2="435.4" y2="267.8" stroke="#111" stroke-width="1.8" stroke-linecap="butt"/>
<line x1="427.6" y1="295.3" x2="435.4" y2="295.3" stroke="#111" stroke-width="1.8" stroke-linecap="butt"/>
<line x1="427.6" y1="320.6" x2="435.4" y2="320.6" stroke="#111" stroke-width="1.8" stroke-linecap="butt"/>
<path d="M482.1 320.6V270.3H527.6V320.6" fill="none" stroke="#2a2a2a" stroke-width="1.4"/>
<text x="490.4" y="267.3" font-size="13.4" text-anchor="start" textLength="26.1" lengthAdjust="spacingAndGlyphs">97.6</text>
<text transform="translate(421.1,293.1) rotate(-90)" font-size="17.6" text-anchor="start" textLength="55.6" lengthAdjust="spacingAndGlyphs">CD62L</text>
<text x="470.9" y="348.3" font-size="17.6" text-anchor="start" textLength="34.8" lengthAdjust="spacingAndGlyphs">CD4</text>
<path d="M603.7 320.7L605.5 314.4L607.4 293.3L609.0 265.2L610.7 237.1L612.1 219.6L613.0 228.9L614.4 230.1L616.1 237.1L617.7 253.5L619.1 260.5L620.7 281.6L622.4 298.0L623.8 312.0L625.4 317.9L627.8 320.7Z" fill="#686868" stroke="none" stroke-width="0" stroke-linejoin="round"/>
<path d="M619.6 320.7L623.1 319.0L626.1 314.4L628.9 305.0L631.7 291.0L634.1 272.2L636.0 253.5L637.6 234.8L639.0 219.6L640.6 218.4L642.3 219.6L643.4 232.4L645.3 246.5L647.2 265.2L648.1 269.9L650.0 288.6L651.9 305.0L653.5 316.7L655.8 320.7" fill="none" stroke="#111" stroke-width="1.8" stroke-linejoin="round"/>
<path d="M595.0 211.8H704.4V320.7" fill="none" stroke="#333" stroke-width="1.0"/>
<path d="M595.0 211.2V320.7H705.0" fill="none" stroke="#111" stroke-width="2.0"/>
<line x1="595.0" y1="320.7" x2="595.0" y2="329.1" stroke="#111" stroke-width="1.8" stroke-linecap="butt"/>
<line x1="620.0" y1="320.7" x2="620.0" y2="329.1" stroke="#111" stroke-width="1.8" stroke-linecap="butt"/>
<line x1="647.7" y1="320.7" x2="647.7" y2="329.1" stroke="#111" stroke-width="1.8" stroke-linecap="butt"/>
<line x1="675.0" y1="320.7" x2="675.0" y2="329.1" stroke="#111" stroke-width="1.8" stroke-linecap="butt"/>
<line x1="704.2" y1="320.7" x2="704.2" y2="329.1" stroke="#111" stroke-width="1.8" stroke-linecap="butt"/>
<line x1="587.2" y1="211.8" x2="595.0" y2="211.8" stroke="#111" stroke-width="1.8" stroke-linecap="butt"/>
<line x1="587.2" y1="239.5" x2="595.0" y2="239.5" stroke="#111" stroke-width="1.8" stroke-linecap="butt"/>
<line x1="587.2" y1="267.5" x2="595.0" y2="267.5" stroke="#111" stroke-width="1.8" stroke-linecap="butt"/>
<line x1="587.2" y1="295.6" x2="595.0" y2="295.6" stroke="#111" stroke-width="1.8" stroke-linecap="butt"/>
<line x1="587.2" y1="320.7" x2="595.0" y2="320.7" stroke="#111" stroke-width="1.8" stroke-linecap="butt"/>
<text x="597.6" y="347.3" font-size="17.6" text-anchor="start" textLength="104.4" lengthAdjust="spacingAndGlyphs">RFP (FoxP3)</text>
</g>
<g id="panelD">
<text x="360.3" y="391.4" font-size="16.4" text-anchor="start" textLength="44.9" lengthAdjust="spacingAndGlyphs">CCR7</text>
<rect x="252.2" y="459.2" width="51.0" height="106.2" fill="url(#hd)" stroke="#111" stroke-width="1.7"/>
<rect x="328.7" y="448.1" width="50.9" height="117.3" fill="#141414" stroke="#111" stroke-width="1.7"/>
<rect x="405.1" y="428.0" width="50.4" height="137.4" fill="url(#hh)" stroke="#111" stroke-width="1.7"/>
<rect x="481.9" y="563.4" width="49.6" height="2.0" fill="#222" stroke="#111" stroke-width="1.7"/>
<line x1="239.6" y1="408.4" x2="239.6" y2="566.4" stroke="#111" stroke-width="2.2" stroke-linecap="butt"/>
<line x1="238.5" y1="565.4" x2="545.7" y2="565.4" stroke="#111" stroke-width="2.0" stroke-linecap="butt"/>
<line x1="234.6" y1="565.4" x2="239.6" y2="565.4" stroke="#111" stroke-width="1.6" stroke-linecap="butt"/>
<text x="230.8" y="570.2" font-size="13.0" text-anchor="end" textLength="18.2" lengthAdjust="spacingAndGlyphs">0.0</text>
<line x1="234.6" y1="543.1" x2="239.6" y2="543.1" stroke="#111" stroke-width="1.6" stroke-linecap="butt"/>
<text x="230.8" y="547.9" font-size="13.0" text-anchor="end" textLength="18.2" lengthAdjust="spacingAndGlyphs">0.1</text>
<line x1="234.6" y1="520.8" x2="239.6" y2="520.8" stroke="#111" stroke-width="1.6" stroke-linecap="butt"/>
<text x="230.8" y="525.6" font-size="13.0" text-anchor="end" textLength="18.2" lengthAdjust="spacingAndGlyphs">0.2</text>
<line x1="234.6" y1="498.5" x2="239.6" y2="498.5" stroke="#111" stroke-width="1.6" stroke-linecap="butt"/>
<text x="230.8" y="503.3" font-size="13.0" text-anchor="end" textLength="18.2" lengthAdjust="spacingAndGlyphs">0.3</text>
<line x1="234.6" y1="476.2" x2="239.6" y2="476.2" stroke="#111" stroke-width="1.6" stroke-linecap="butt"/>
<text x="230.8" y="481.0" font-size="13.0" text-anchor="end" textLength="18.2" lengthAdjust="spacingAndGlyphs">0.4</text>
<line x1="234.6" y1="453.9" x2="239.6" y2="453.9" stroke="#111" stroke-width="1.6" stroke-linecap="butt"/>
<text x="230.8" y="458.7" font-size="13.0" text-anchor="end" textLength="18.2" lengthAdjust="spacingAndGlyphs">0.5</text>
<line x1="234.6" y1="431.6" x2="239.6" y2="431.6" stroke="#111" stroke-width="1.6" stroke-linecap="butt"/>
<text x="230.8" y="436.4" font-size="13.0" text-anchor="end" textLength="18.2" lengthAdjust="spacingAndGlyphs">0.6</text>
<line x1="234.6" y1="409.3" x2="239.6" y2="409.3" stroke="#111" stroke-width="1.6" stroke-linecap="butt"/>
<text x="230.8" y="414.1" font-size="13.0" text-anchor="end" textLength="18.2" lengthAdjust="spacingAndGlyphs">0.7</text>
<line x1="277.5" y1="565.4" x2="277.5" y2="569.6" stroke="#111" stroke-width="1.5" stroke-linecap="butt"/>
<line x1="353.9" y1="565.4" x2="353.9" y2="569.6" stroke="#111" stroke-width="1.5" stroke-linecap="butt"/>
<line x1="430.2" y1="565.4" x2="430.2" y2="569.6" stroke="#111" stroke-width="1.5" stroke-linecap="butt"/>
<line x1="506.6" y1="565.4" x2="506.6" y2="569.6" stroke="#111" stroke-width="1.5" stroke-linecap="butt"/>
<text x="251.8" y="590.5" font-size="14.9" text-anchor="start" textLength="47.2" lengthAdjust="spacingAndGlyphs">CD62L</text>
<text x="298.6" y="581.6" font-size="9.0" text-anchor="start">Hi</text>
<text x="328.6" y="590.5" font-size="14.9" text-anchor="start" textLength="47.2" lengthAdjust="spacingAndGlyphs">CD62L</text>
<text x="375.6" y="581.8" font-size="9.0" text-anchor="start">-/-</text>
<text x="409.2" y="590.6" font-size="14.9" text-anchor="start" textLength="29.8" lengthAdjust="spacingAndGlyphs">CD4</text>
<text x="441.2" y="581.8" font-size="8.6" text-anchor="start">+</text>
<text x="446.6" y="590.8" font-size="16.0" text-anchor="start" textLength="5.6" lengthAdjust="spacingAndGlyphs">/</text>
<text x="409.2" y="608.7" font-size="14.9" text-anchor="start" textLength="38.0" lengthAdjust="spacingAndGlyphs">CD25</text>
<line x1="450.3" y1="597.6" x2="462.6" y2="597.6" stroke="#111" stroke-width="1.6" stroke-linecap="butt"/>
<text x="481.4" y="590.5" font-size="14.9" text-anchor="start" textLength="47.2" lengthAdjust="spacingAndGlyphs">CD62L</text>
<text x="528.2" y="581.6" font-size="9.0" text-anchor="start">Lo</text>
<text transform="translate(176.3,529.9) rotate(-90)" font-size="15" text-anchor="start" textLength="90.5" lengthAdjust="spacingAndGlyphs">Fold Change</text>
<text transform="translate(195.2,551.0) rotate(-90)" text-anchor="start" textLength="138.8" lengthAdjust="spacingAndGlyphs"><tspan font-size="15">(vs. CD62L</tspan><tspan font-size="7.2" dy="-6.20" dx="0.50">LO</tspan><tspan font-size="15" dy="6.20"> Tregs )</tspan></text>
</g>
<g id="panelE">
<rect x="125.9" y="637.3" width="37.6" height="12.2" fill="url(#ld)" stroke="#111" stroke-width="1.8"/>
<rect x="125.9" y="662.0" width="37.6" height="11.8" fill="#111" stroke="#111" stroke-width="1.8"/>
<rect x="125.9" y="687.0" width="37.6" height="12.2" fill="#e6e6e6" stroke="#111" stroke-width="1.9"/>
<line x1="125.9" y1="691.1" x2="163.5" y2="691.1" stroke="#1a1a1a" stroke-width="1.9" stroke-linecap="butt"/>
<line x1="125.9" y1="695.2" x2="163.5" y2="695.2" stroke="#1a1a1a" stroke-width="1.9" stroke-linecap="butt"/>
<rect x="125.9" y="712.0" width="37.6" height="11.8" fill="#fff" stroke="#111" stroke-width="1.9"/>
<line x1="134.2" y1="712.0" x2="134.2" y2="723.8" stroke="#111" stroke-width="1.7" stroke-linecap="butt"/>
<line x1="141.8" y1="712.0" x2="141.8" y2="723.8" stroke="#111" stroke-width="1.7" stroke-linecap="butt"/>
<line x1="149.7" y1="712.0" x2="149.7" y2="723.8" stroke="#111" stroke-width="1.7" stroke-linecap="butt"/>
<line x1="156.7" y1="712.0" x2="156.7" y2="723.8" stroke="#111" stroke-width="1.7" stroke-linecap="butt"/>
<text x="170.7" y="649.3" text-anchor="start" textLength="99.6" lengthAdjust="spacingAndGlyphs"><tspan font-size="14.5">CD62L</tspan><tspan font-size="8.6" dy="-9.20" dx="0.20">Hi</tspan><tspan font-size="14.5" dy="9.20" dx="5.20"> Tregs</tspan></text>
<text x="170.7" y="673.0" text-anchor="start" textLength="99.6" lengthAdjust="spacingAndGlyphs"><tspan font-size="14.5">CD62L</tspan><tspan font-size="8.6" dy="-9.20" dx="0.20">-/-</tspan><tspan font-size="14.5" dy="9.20" dx="3.90"> Tregs</tspan></text>
<text x="170.7" y="698.6" text-anchor="start" textLength="102.1" lengthAdjust="spacingAndGlyphs"><tspan font-size="14.5">CD62L</tspan><tspan font-size="8.6" dy="-9.20" dx="0.20">Lo</tspan><tspan font-size="14.5" dy="9.20" dx="3.20"> Tregs</tspan></text>
<text x="170.7" y="723.5" text-anchor="start"><tspan font-size="14.5">CD4</tspan><tspan font-size="9.5" dy="-5.20" dx="0.60">+</tspan><tspan font-size="14.5" dy="5.20" dx="2.00">/</tspan><tspan font-size="14.5" dx="0.60"> CD25</tspan></text>
<line x1="256.9" y1="714.7" x2="269.7" y2="714.7" stroke="#111" stroke-width="1.6" stroke-linecap="butt"/>
<rect x="165.3" y="950.5" width="2" height="17.1" fill="#4a4a4a"/>
<rect x="155.8" y="950.4" width="9.5" height="17.2" fill="url(#hd2)" stroke="#111" stroke-width="1.8"/>
<rect x="167.6" y="871.8" width="11.3" height="95.8" fill="#141414" stroke="#111" stroke-width="1.6"/>
<rect x="180.3" y="913.3" width="10.2" height="54.3" fill="url(#he)" stroke="#111" stroke-width="1.6"/>
<rect x="191.3" y="964.9" width="12.0" height="2.7" fill="#111"/>
<text x="179.8" y="773.5" font-size="14.0" text-anchor="middle">CCR1</text>
<rect x="221.0" y="891.6" width="2" height="76.0" fill="#4a4a4a"/>
<rect x="211.5" y="891.5" width="9.5" height="76.1" fill="url(#hd2)" stroke="#111" stroke-width="1.8"/>
<rect x="223.3" y="836.3" width="11.3" height="131.3" fill="#141414" stroke="#111" stroke-width="1.6"/>
<rect x="236.0" y="833.3" width="10.2" height="134.3" fill="url(#he)" stroke="#111" stroke-width="1.6"/>
<rect x="247.0" y="964.9" width="12.0" height="2.7" fill="#111"/>
<text x="235.9" y="773.5" font-size="14.0" text-anchor="middle">CCR2</text>
<rect x="276.8" y="958.8" width="2" height="8.8" fill="#4a4a4a"/>
<rect x="267.3" y="958.7" width="9.5" height="8.9" fill="url(#hd2)" stroke="#111" stroke-width="1.8"/>
<rect x="279.1" y="950.3" width="11.3" height="17.3" fill="#141414" stroke="#111" stroke-width="1.6"/>
<rect x="291.8" y="948.8" width="10.2" height="18.8" fill="url(#he)" stroke="#111" stroke-width="1.6"/>
<rect x="302.8" y="964.9" width="12.0" height="2.7" fill="#111"/>
<text x="291.9" y="773.5" font-size="14.0" text-anchor="middle">CCR4</text>
<rect x="332.6" y="961.1" width="2" height="6.6" fill="#4a4a4a"/>
<rect x="323.1" y="961.0" width="9.5" height="6.6" fill="url(#hd2)" stroke="#111" stroke-width="1.8"/>
<rect x="334.9" y="906.5" width="11.3" height="61.1" fill="#141414" stroke="#111" stroke-width="1.6"/>
<rect x="347.6" y="812.5" width="10.2" height="155.1" fill="url(#he)" stroke="#111" stroke-width="1.6"/>
<rect x="358.6" y="964.9" width="12.0" height="2.7" fill="#111"/>
<text x="347.8" y="773.5" font-size="14.0" text-anchor="middle">CCR5</text>
<rect x="388.3" y="874.2" width="2" height="93.4" fill="#4a4a4a"/>
<rect x="378.8" y="874.1" width="9.5" height="93.5" fill="url(#hd2)" stroke="#111" stroke-width="1.8"/>
<rect x="390.6" y="824.6" width="11.3" height="143.0" fill="#141414" stroke="#111" stroke-width="1.6"/>
<rect x="403.3" y="788.3" width="10.2" height="179.3" fill="url(#he)" stroke="#111" stroke-width="1.6"/>
<rect x="414.3" y="964.9" width="12.0" height="2.7" fill="#111"/>
<text x="402.4" y="773.5" font-size="14.0" text-anchor="middle">CCR8</text>
<rect x="444.1" y="919.1" width="2" height="48.5" fill="#4a4a4a"/>
<rect x="434.6" y="919.0" width="9.5" height="48.6" fill="url(#hd2)" stroke="#111" stroke-width="1.8"/>
<rect x="446.4" y="896.3" width="11.3" height="71.3" fill="#141414" stroke="#111" stroke-width="1.6"/>
<rect x="459.1" y="968.4" width="10.2" height="48.2" fill="url(#he)" stroke="#111" stroke-width="1.6"/>
<rect x="470.1" y="964.9" width="12.0" height="2.7" fill="#111"/>
<text x="458.2" y="773.5" font-size="14.0" text-anchor="middle">CCR9</text>
<rect x="499.8" y="946.0" width="2" height="21.6" fill="#4a4a4a"/>
<rect x="490.3" y="945.9" width="9.5" height="21.8" fill="url(#hd2)" stroke="#111" stroke-width="1.8"/>
<rect x="502.1" y="899.7" width="11.3" height="67.9" fill="#141414" stroke="#111" stroke-width="1.6"/>
<rect x="514.8" y="935.6" width="10.2" height="32.0" fill="url(#he)" stroke="#111" stroke-width="1.6"/>
<rect x="525.8" y="964.9" width="12.0" height="2.7" fill="#111"/>
<text x="513.9" y="773.5" font-size="14.0" text-anchor="middle">CCR10</text>
<rect x="555.6" y="901.4" width="2" height="66.2" fill="#4a4a4a"/>
<rect x="546.1" y="901.3" width="9.5" height="66.3" fill="url(#hd2)" stroke="#111" stroke-width="1.8"/>
<rect x="557.9" y="860.8" width="11.3" height="106.8" fill="#141414" stroke="#111" stroke-width="1.6"/>
<rect x="570.6" y="861.9" width="10.2" height="105.7" fill="url(#he)" stroke="#111" stroke-width="1.6"/>
<rect x="581.6" y="964.9" width="12.0" height="2.7" fill="#111"/>
<text x="569.1" y="773.5" font-size="14.0" text-anchor="middle">CXCR3</text>
<rect x="611.3" y="964.1" width="2" height="3.5" fill="#4a4a4a"/>
<rect x="601.8" y="964.0" width="9.5" height="3.6" fill="url(#hd2)" stroke="#111" stroke-width="1.8"/>
<rect x="613.6" y="934.0" width="11.3" height="33.6" fill="#141414" stroke="#111" stroke-width="1.6"/>
<rect x="626.3" y="954.4" width="10.2" height="13.2" fill="url(#he)" stroke="#111" stroke-width="1.6"/>
<rect x="637.3" y="964.9" width="12.0" height="2.7" fill="#111"/>
<text x="624.4" y="773.5" font-size="14.0" text-anchor="middle">CXCR4</text>
<line x1="151.9" y1="778.0" x2="151.9" y2="1044.2" stroke="#111" stroke-width="2.1" stroke-linecap="butt"/>
<line x1="151.1" y1="967.6" x2="653.6" y2="967.6" stroke="#111" stroke-width="2.0" stroke-linecap="butt"/>
<line x1="179.2" y1="967.6" x2="179.2" y2="973.0" stroke="#111" stroke-width="1.7" stroke-linecap="butt"/>
<line x1="234.9" y1="967.6" x2="234.9" y2="973.0" stroke="#111" stroke-width="1.7" stroke-linecap="butt"/>
<line x1="290.7" y1="967.6" x2="290.7" y2="973.0" stroke="#111" stroke-width="1.7" stroke-linecap="butt"/>
<line x1="346.4" y1="967.6" x2="346.4" y2="973.0" stroke="#111" stroke-width="1.7" stroke-linecap="butt"/>
<line x1="402.2" y1="967.6" x2="402.2" y2="973.0" stroke="#111" stroke-width="1.7" stroke-linecap="butt"/>
<line x1="457.9" y1="967.6" x2="457.9" y2="973.0" stroke="#111" stroke-width="1.7" stroke-linecap="butt"/>
<line x1="513.7" y1="967.6" x2="513.7" y2="973.0" stroke="#111" stroke-width="1.7" stroke-linecap="butt"/>
<line x1="569.5" y1="967.6" x2="569.5" y2="973.0" stroke="#111" stroke-width="1.7" stroke-linecap="butt"/>
<line x1="625.2" y1="967.6" x2="625.2" y2="973.0" stroke="#111" stroke-width="1.7" stroke-linecap="butt"/>
<line x1="147.2" y1="778.8" x2="152.0" y2="778.8" stroke="#111" stroke-width="1.6" stroke-linecap="butt"/>
<text x="143.2" y="784.3" font-size="15.3" text-anchor="end">2.5</text>
<line x1="147.2" y1="816.6" x2="152.0" y2="816.6" stroke="#111" stroke-width="1.6" stroke-linecap="butt"/>
<text x="143.2" y="822.1" font-size="15.3" text-anchor="end">2.0</text>
<line x1="147.2" y1="854.3" x2="152.0" y2="854.3" stroke="#111" stroke-width="1.6" stroke-linecap="butt"/>
<text x="143.2" y="859.8" font-size="15.3" text-anchor="end">1.5</text>
<line x1="147.2" y1="892.1" x2="152.0" y2="892.1" stroke="#111" stroke-width="1.6" stroke-linecap="butt"/>
<text x="143.2" y="897.6" font-size="15.3" text-anchor="end">1.0</text>
<line x1="147.2" y1="929.9" x2="152.0" y2="929.9" stroke="#111" stroke-width="1.6" stroke-linecap="butt"/>
<text x="143.2" y="935.4" font-size="15.3" text-anchor="end">0.5</text>
<line x1="147.2" y1="967.6" x2="152.0" y2="967.6" stroke="#111" stroke-width="1.6" stroke-linecap="butt"/>
<text x="143.2" y="973.1" font-size="15.3" text-anchor="end">0.0</text>
<line x1="147.2" y1="1005.4" x2="152.0" y2="1005.4" stroke="#111" stroke-width="1.6" stroke-linecap="butt"/>
<text x="143.2" y="1010.9" font-size="15.3" text-anchor="end" textLength="27.6" lengthAdjust="spacingAndGlyphs">-0.5</text>
<line x1="147.2" y1="1043.2" x2="152.0" y2="1043.2" stroke="#111" stroke-width="1.6" stroke-linecap="butt"/>
<text x="143.2" y="1048.7" font-size="15.3" text-anchor="end" textLength="27.6" lengthAdjust="spacingAndGlyphs">-1.0</text>
<text transform="translate(82.7,933.8) rotate(-90)" font-size="15" text-anchor="start" textLength="90.4" lengthAdjust="spacingAndGlyphs">Fold Change</text>
<text transform="translate(101.7,955.0) rotate(-90)" text-anchor="start" textLength="128.5" lengthAdjust="spacingAndGlyphs"><tspan font-size="15">(vs. CD4</tspan><tspan font-size="9.5" dy="-5.50">+</tspan><tspan font-size="15" dy="5.50"> / CD25</tspan><tspan font-size="9.5" dy="-6.50">&#8722;</tspan><tspan font-size="15" dy="6.50">)</tspan></text>
</g>
</svg></body></html>
